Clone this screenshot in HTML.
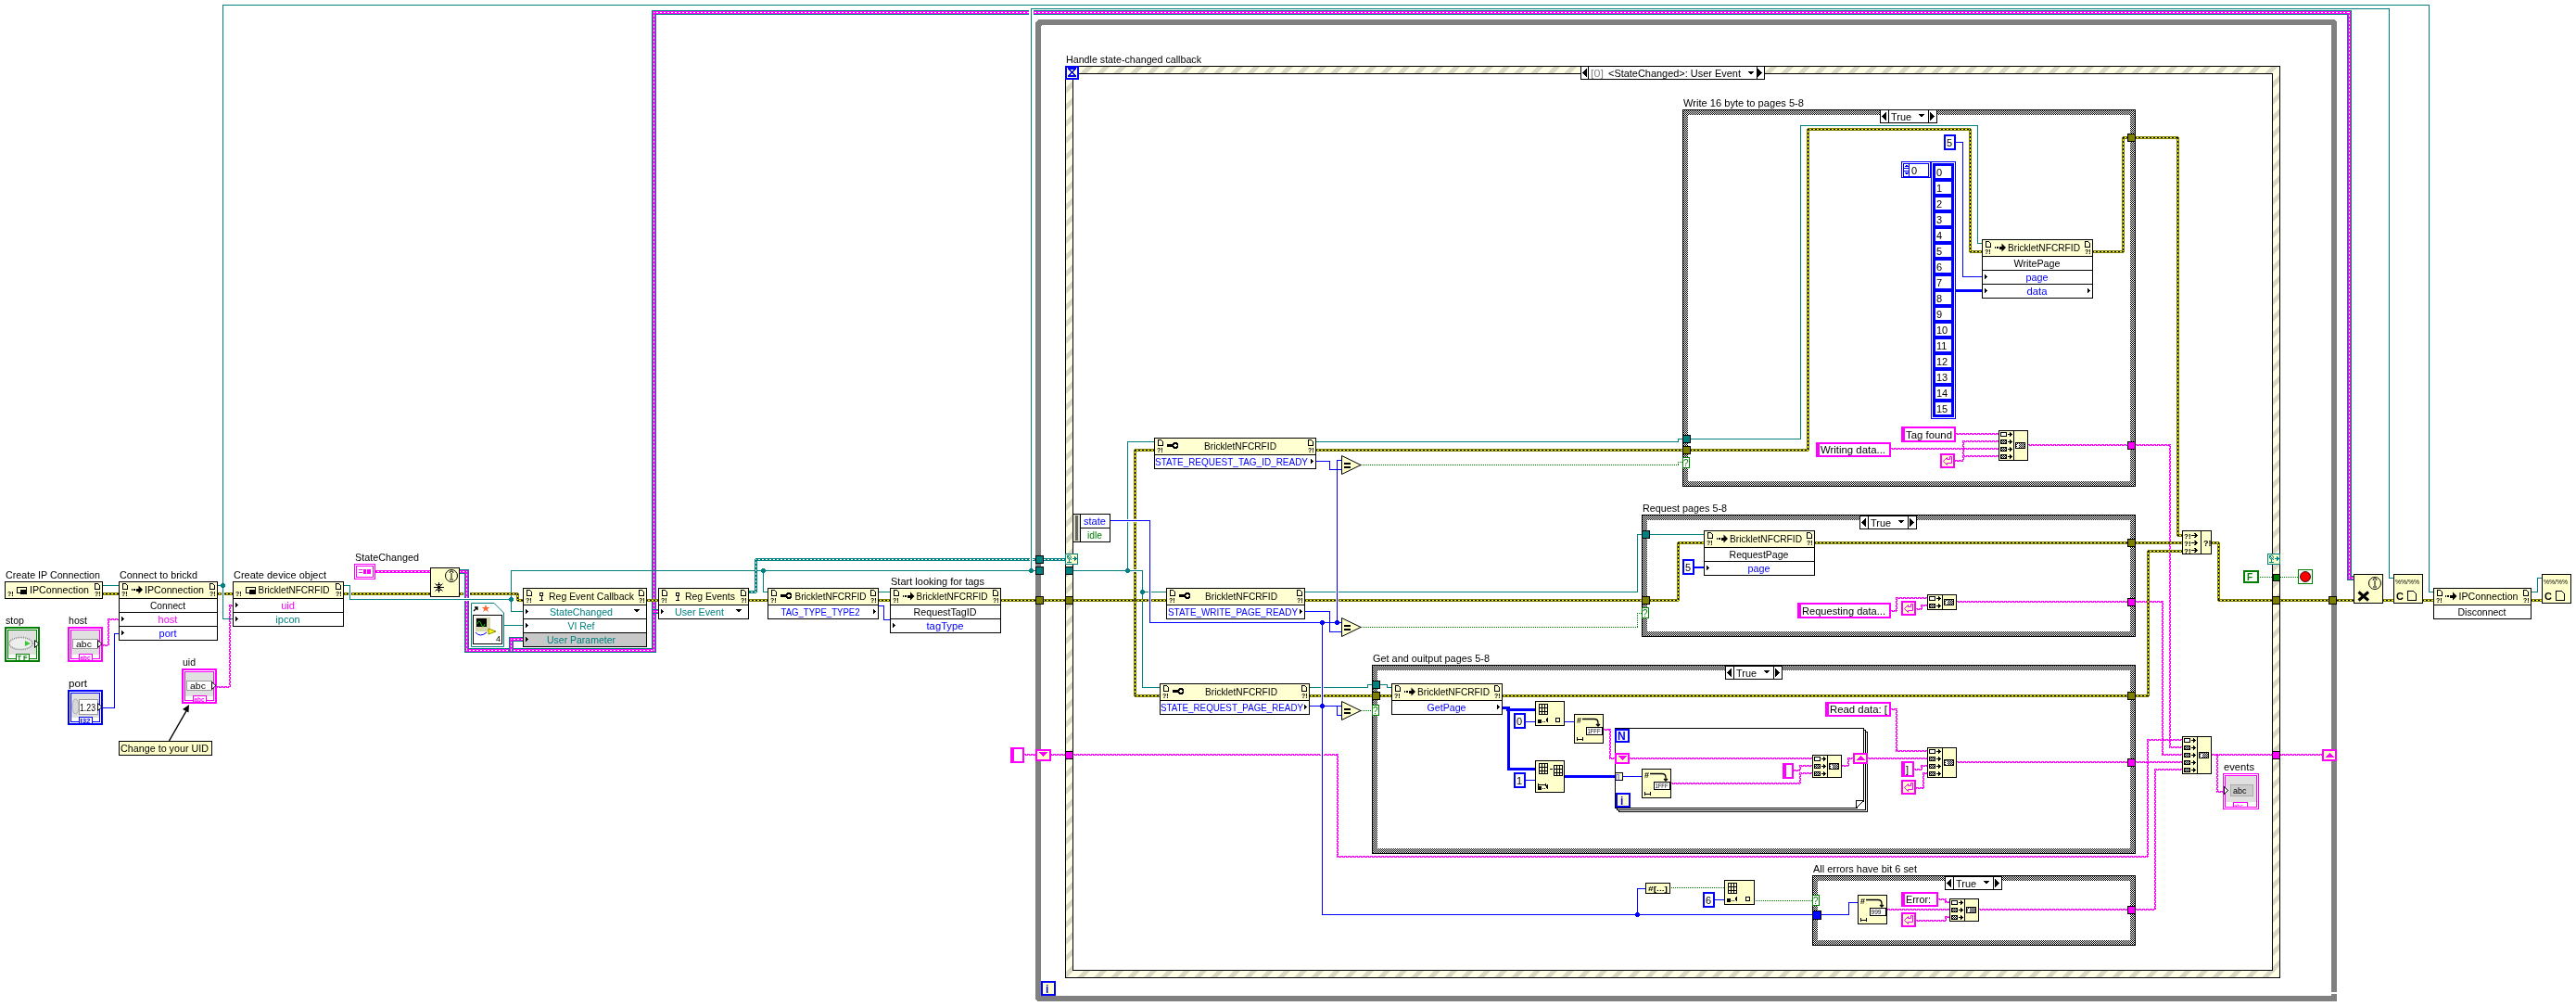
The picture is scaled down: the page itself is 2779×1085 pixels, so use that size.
<!DOCTYPE html>
<html><head><meta charset="utf-8"><style>
html,body{margin:0;padding:0;background:#fff;}
svg{display:block;will-change:transform;}
text{font-family:"Liberation Sans",sans-serif;shape-rendering:auto;}
</style></head><body>
<svg width="2779" height="1085" viewBox="0 0 2779 1085" shape-rendering="crispEdges">
<defs>
<pattern id="hatch" patternUnits="userSpaceOnUse" width="18" height="18" patternTransform="translate(5.7 0)">
<rect width="18" height="18" fill="#ffffe6"/>
<path d="M0 18 L18 0 M-9 9 L9 -9 M9 27 L27 9" stroke="#d8d8c4" stroke-width="5.5" shape-rendering="crispEdges"/>
</pattern>
<pattern id="dith" patternUnits="userSpaceOnUse" width="2" height="2">
<rect width="2" height="2" fill="#fff"/><rect width="1" height="1" fill="#000"/><rect x="1" y="1" width="1" height="1" fill="#000"/>
</pattern>
<pattern id="checker" patternUnits="userSpaceOnUse" width="2" height="2">
<rect width="2" height="2" fill="#fff"/><rect width="1" height="1" fill="#000"/><rect x="1" y="1" width="1" height="1" fill="#000"/>
</pattern>
</defs>
<rect width="2779" height="1085" fill="#fff"/>
<rect x="1117" y="21" width="1404" height="6" fill="#808080"/>
<rect x="1117" y="1074" width="1404" height="6" fill="#808080"/>
<rect x="1117" y="21" width="6" height="1059" fill="#808080"/>
<rect x="2515" y="21" width="6" height="1059" fill="#808080"/>
<rect x="1117" y="21" width="3" height="1" fill="#fff"/>
<rect x="1117" y="22" width="1" height="2" fill="#fff"/>
<rect x="1118" y="22" width="1" height="1" fill="#fff"/>
<rect x="1123" y="27" width="1" height="1" fill="#808080"/>
<rect x="2519" y="21" width="2" height="1" fill="#fff"/>
<rect x="2520" y="22" width="1" height="1" fill="#fff"/>
<rect x="1117" y="1078" width="1" height="2" fill="#fff"/>
<rect x="1118" y="1079" width="1" height="1" fill="#fff"/>
<rect x="2515" y="1070" width="6" height="2" fill="#fff"/>
<rect x="1149" y="71" width="1311" height="984" fill="url(#hatch)"/>
<rect x="1149" y="71" width="1311" height="1" fill="#000"/>
<rect x="1149" y="1054" width="1311" height="1" fill="#000"/>
<rect x="1149" y="71" width="1" height="984" fill="#000"/>
<rect x="2459" y="71" width="1" height="984" fill="#000"/>
<rect x="1157" y="79" width="1295" height="968" fill="#000"/>
<rect x="1158" y="80" width="1293" height="966" fill="#fff"/>
<text x="1150" y="68" fill="#000" font-size="11" text-anchor="start" font-weight="normal" font-family="Liberation Sans, sans-serif" textLength="146" lengthAdjust="spacingAndGlyphs">Handle state-changed callback</text>
<rect x="1815" y="118" width="489" height="407" fill="url(#checker)"/>
<rect x="1815" y="118" width="489" height="1" fill="#000"/>
<rect x="1815" y="524" width="489" height="1" fill="#000"/>
<rect x="1815" y="118" width="1" height="407" fill="#000"/>
<rect x="2303" y="118" width="1" height="407" fill="#000"/>
<rect x="1821" y="124" width="477" height="395" fill="#fff"/>
<text x="1816" y="115" fill="#000" font-size="11" text-anchor="start" font-weight="normal" font-family="Liberation Sans, sans-serif" textLength="130" lengthAdjust="spacingAndGlyphs">Write 16 byte to pages 5-8</text>
<rect x="1771" y="555" width="533" height="132" fill="url(#checker)"/>
<rect x="1771" y="555" width="533" height="1" fill="#000"/>
<rect x="1771" y="686" width="533" height="1" fill="#000"/>
<rect x="1771" y="555" width="1" height="132" fill="#000"/>
<rect x="2303" y="555" width="1" height="132" fill="#000"/>
<rect x="1777" y="561" width="521" height="120" fill="#fff"/>
<text x="1772" y="552" fill="#000" font-size="11" text-anchor="start" font-weight="normal" font-family="Liberation Sans, sans-serif" textLength="91" lengthAdjust="spacingAndGlyphs">Request pages 5-8</text>
<rect x="1480" y="717" width="824" height="204" fill="url(#checker)"/>
<rect x="1480" y="717" width="824" height="1" fill="#000"/>
<rect x="1480" y="920" width="824" height="1" fill="#000"/>
<rect x="1480" y="717" width="1" height="204" fill="#000"/>
<rect x="2303" y="717" width="1" height="204" fill="#000"/>
<rect x="1486" y="723" width="812" height="192" fill="#fff"/>
<text x="1481" y="714" fill="#000" font-size="11" text-anchor="start" font-weight="normal" font-family="Liberation Sans, sans-serif" textLength="126" lengthAdjust="spacingAndGlyphs">Get and ouitput pages 5-8</text>
<rect x="1955" y="944" width="349" height="76" fill="url(#checker)"/>
<rect x="1955" y="944" width="349" height="1" fill="#000"/>
<rect x="1955" y="1019" width="349" height="1" fill="#000"/>
<rect x="1955" y="944" width="1" height="76" fill="#000"/>
<rect x="2303" y="944" width="1" height="76" fill="#000"/>
<rect x="1961" y="950" width="337" height="64" fill="#fff"/>
<text x="1956" y="941" fill="#000" font-size="11" text-anchor="start" font-weight="normal" font-family="Liberation Sans, sans-serif" textLength="112" lengthAdjust="spacingAndGlyphs">All errors have bit 6 set</text>
<rect x="1746" y="789" width="269" height="1" fill="#000"/>
<rect x="1746" y="875" width="269" height="1" fill="#000"/>
<rect x="1746" y="789" width="1" height="87" fill="#000"/>
<rect x="2014" y="789" width="1" height="87" fill="#000"/>
<rect x="1744" y="787" width="269" height="1" fill="#000"/>
<rect x="1744" y="873" width="269" height="1" fill="#000"/>
<rect x="1744" y="787" width="1" height="87" fill="#000"/>
<rect x="2012" y="787" width="1" height="87" fill="#000"/>
<rect x="1745" y="788" width="267" height="85" fill="#fff"/>
<rect x="1742" y="785" width="269" height="1" fill="#000"/>
<rect x="1742" y="871" width="269" height="1" fill="#000"/>
<rect x="1742" y="785" width="1" height="87" fill="#000"/>
<rect x="2010" y="785" width="1" height="87" fill="#000"/>
<rect x="1743" y="786" width="267" height="85" fill="#fff"/>
<path d="M2003 872 L2011 872 L2011 864 Z" fill="#fff" shape-rendering="crispEdges"/>
<rect x="2002" y="863" width="9" height="1" fill="#000"/>
<rect x="2002" y="863" width="1" height="9" fill="#000"/>
<rect x="2002" y="871" width="1" height="1" fill="#000"/>
<rect x="2003" y="870" width="1" height="1" fill="#000"/>
<rect x="2004" y="869" width="1" height="1" fill="#000"/>
<rect x="2005" y="868" width="1" height="1" fill="#000"/>
<rect x="2006" y="867" width="1" height="1" fill="#000"/>
<rect x="2007" y="866" width="1" height="1" fill="#000"/>
<rect x="2008" y="865" width="1" height="1" fill="#000"/>
<rect x="2009" y="864" width="1" height="1" fill="#000"/>
<rect x="2010" y="863" width="1" height="1" fill="#000"/>
<rect x="240" y="5" width="1" height="663" fill="#008080"/>
<rect x="240" y="5" width="2381" height="1" fill="#008080"/>
<rect x="2620" y="5" width="1" height="634" fill="#008080"/>
<rect x="2620" y="638" width="6" height="1" fill="#008080"/>
<rect x="1112" y="9" width="1" height="607" fill="#008080"/>
<rect x="1112" y="9" width="1466" height="1" fill="#008080"/>
<rect x="2577" y="9" width="1" height="615" fill="#008080"/>
<rect x="2577" y="623" width="6" height="1" fill="#008080"/>
<rect x="494" y="614" width="12" height="5" fill="#008080"/>
<rect x="501" y="614" width="5" height="90" fill="#008080"/>
<rect x="501" y="699" width="207" height="5" fill="#008080"/>
<rect x="703" y="11" width="5" height="693" fill="#008080"/>
<rect x="703" y="11" width="1834" height="5" fill="#008080"/>
<rect x="2532" y="11" width="5" height="615" fill="#008080"/>
<rect x="2532" y="621" width="10" height="5" fill="#008080"/>
<rect x="495" y="615" width="10" height="3" fill="#ff00ff"/>
<rect x="502" y="615" width="3" height="88" fill="#ff00ff"/>
<rect x="502" y="700" width="205" height="3" fill="#ff00ff"/>
<rect x="704" y="12" width="3" height="691" fill="#ff00ff"/>
<rect x="704" y="12" width="1832" height="3" fill="#ff00ff"/>
<rect x="2533" y="12" width="3" height="613" fill="#ff00ff"/>
<rect x="2533" y="622" width="8" height="3" fill="#ff00ff"/>
<line x1="496" y1="616.5" x2="504" y2="616.5" stroke="#fff" stroke-width="1" stroke-dasharray="2 2" stroke-dashoffset="1"/>
<line x1="503.5" y1="616" x2="503.5" y2="702" stroke="#fff" stroke-width="1" stroke-dasharray="2 2" stroke-dashoffset="1"/>
<line x1="503" y1="701.5" x2="706" y2="701.5" stroke="#fff" stroke-width="1" stroke-dasharray="2 2" stroke-dashoffset="1"/>
<line x1="705.5" y1="13" x2="705.5" y2="702" stroke="#fff" stroke-width="1" stroke-dasharray="2 2" stroke-dashoffset="1"/>
<line x1="705" y1="13.5" x2="2535" y2="13.5" stroke="#fff" stroke-width="1" stroke-dasharray="2 2" stroke-dashoffset="1"/>
<line x1="2534.5" y1="13" x2="2534.5" y2="624" stroke="#fff" stroke-width="1" stroke-dasharray="2 2" stroke-dashoffset="1"/>
<line x1="2534" y1="623.5" x2="2540" y2="623.5" stroke="#fff" stroke-width="1" stroke-dasharray="2 2" stroke-dashoffset="1"/>
<rect x="549" y="687" width="5" height="17" fill="#008080"/>
<rect x="549" y="687" width="18" height="5" fill="#008080"/>
<rect x="550" y="688" width="3" height="15" fill="#ff00ff"/>
<rect x="550" y="688" width="16" height="3" fill="#ff00ff"/>
<line x1="551.5" y1="689" x2="551.5" y2="702" stroke="#fff" stroke-width="1" stroke-dasharray="2 2" stroke-dashoffset="1"/>
<line x1="551" y1="689.5" x2="565" y2="689.5" stroke="#fff" stroke-width="1" stroke-dasharray="2 2" stroke-dashoffset="1"/>
<rect x="703" y="657" width="10" height="5" fill="#008080"/>
<rect x="704" y="658" width="8" height="3" fill="#ff00ff"/>
<line x1="705" y1="659.5" x2="711" y2="659.5" stroke="#fff" stroke-width="1" stroke-dasharray="2 2" stroke-dashoffset="1"/>
<rect x="110" y="631" width="19" height="1" fill="#008080"/>
<rect x="234" y="631" width="7" height="1" fill="#008080"/>
<rect x="240" y="667" width="12" height="1" fill="#008080"/>
<rect x="370" y="631" width="8" height="1" fill="#008080"/>
<rect x="377" y="631" width="1" height="16" fill="#008080"/>
<rect x="377" y="646" width="175" height="1" fill="#008080"/>
<rect x="551" y="615" width="1" height="32" fill="#008080"/>
<rect x="551" y="615" width="567" height="1" fill="#008080"/>
<rect x="551" y="646" width="1" height="14" fill="#008080"/>
<rect x="551" y="659" width="14" height="1" fill="#008080"/>
<rect x="543" y="674" width="22" height="1" fill="#008080"/>
<rect x="823" y="615" width="1" height="24" fill="#008080"/>
<rect x="823" y="638" width="6" height="1" fill="#008080"/>
<rect x="947" y="638" width="14" height="1" fill="#008080"/>
<circle cx="240.5" cy="631.5" r="2.6" fill="#008080"/>
<circle cx="551.5" cy="646.5" r="2.6" fill="#008080"/>
<circle cx="823.5" cy="615.5" r="2.6" fill="#008080"/>
<circle cx="1112.5" cy="615.5" r="2.6" fill="#008080"/>
<rect x="807" y="637" width="9" height="3" fill="#008080"/>
<rect x="814" y="603" width="3" height="36" fill="#008080"/>
<rect x="815" y="602" width="335" height="3" fill="#008080"/>
<line x1="807" y1="638.5" x2="816" y2="638.5" stroke="#fff" stroke-width="1" stroke-dasharray="2 2" stroke-dashoffset="1"/>
<line x1="815.5" y1="603" x2="815.5" y2="639" stroke="#fff" stroke-width="1" stroke-dasharray="2 2" stroke-dashoffset="1"/>
<line x1="815" y1="603.5" x2="1150" y2="603.5" stroke="#fff" stroke-width="1" stroke-dasharray="2 2" stroke-dashoffset="1"/>
<rect x="110" y="639" width="19" height="3" fill="#808000"/>
<rect x="110" y="640" width="19" height="1" fill="#ffff00"/>
<line x1="110" y1="640.5" x2="129" y2="640.5" stroke="#000" stroke-width="1" stroke-dasharray="2 2" stroke-dashoffset="0"/>
<rect x="234" y="639" width="18" height="3" fill="#808000"/>
<rect x="234" y="640" width="18" height="1" fill="#ffff00"/>
<line x1="234" y1="640.5" x2="252" y2="640.5" stroke="#000" stroke-width="1" stroke-dasharray="2 2" stroke-dashoffset="0"/>
<rect x="370" y="639" width="95" height="3" fill="#808000"/>
<rect x="370" y="640" width="95" height="1" fill="#ffff00"/>
<line x1="370" y1="640.5" x2="465" y2="640.5" stroke="#000" stroke-width="1" stroke-dasharray="2 2" stroke-dashoffset="0"/>
<rect x="495" y="639" width="64" height="3" fill="#808000"/>
<rect x="557" y="640" width="3" height="8" fill="#808000"/>
<rect x="558" y="646" width="7" height="3" fill="#808000"/>
<rect x="495" y="640" width="64" height="1" fill="#ffff00"/>
<rect x="558" y="640" width="1" height="8" fill="#ffff00"/>
<rect x="558" y="647" width="7" height="1" fill="#ffff00"/>
<line x1="495" y1="640.5" x2="559" y2="640.5" stroke="#000" stroke-width="1" stroke-dasharray="2 2" stroke-dashoffset="0"/>
<line x1="558.5" y1="640" x2="558.5" y2="648" stroke="#000" stroke-width="1" stroke-dasharray="2 2" stroke-dashoffset="0"/>
<line x1="558" y1="647.5" x2="565" y2="647.5" stroke="#000" stroke-width="1" stroke-dasharray="2 2" stroke-dashoffset="0"/>
<rect x="697" y="646" width="14" height="3" fill="#808000"/>
<rect x="697" y="647" width="14" height="1" fill="#ffff00"/>
<line x1="697" y1="647.5" x2="711" y2="647.5" stroke="#000" stroke-width="1" stroke-dasharray="2 2" stroke-dashoffset="0"/>
<rect x="807" y="646" width="22" height="3" fill="#808000"/>
<rect x="807" y="647" width="22" height="1" fill="#ffff00"/>
<line x1="807" y1="647.5" x2="829" y2="647.5" stroke="#000" stroke-width="1" stroke-dasharray="2 2" stroke-dashoffset="0"/>
<rect x="947" y="646" width="14" height="3" fill="#808000"/>
<rect x="947" y="647" width="14" height="1" fill="#ffff00"/>
<line x1="947" y1="647.5" x2="961" y2="647.5" stroke="#000" stroke-width="1" stroke-dasharray="2 2" stroke-dashoffset="0"/>
<rect x="1079" y="646" width="71" height="3" fill="#808000"/>
<rect x="1079" y="647" width="71" height="1" fill="#ffff00"/>
<line x1="1079" y1="647.5" x2="1150" y2="647.5" stroke="#000" stroke-width="1" stroke-dasharray="2 2" stroke-dashoffset="0"/>
<line x1="111" y1="695.5" x2="117" y2="695.5" stroke="#ff00ff" stroke-width="1" stroke-dasharray="3 1" stroke-dashoffset="0"/>
<line x1="111" y1="696.5" x2="117" y2="696.5" stroke="#ff00ff" stroke-width="1" stroke-dasharray="3 1" stroke-dashoffset="2"/>
<line x1="116.5" y1="667" x2="116.5" y2="696" stroke="#ff00ff" stroke-width="1" stroke-dasharray="3 1" stroke-dashoffset="0"/>
<line x1="117.5" y1="667" x2="117.5" y2="696" stroke="#ff00ff" stroke-width="1" stroke-dasharray="3 1" stroke-dashoffset="2"/>
<line x1="116" y1="667.5" x2="129" y2="667.5" stroke="#ff00ff" stroke-width="1" stroke-dasharray="3 1" stroke-dashoffset="0"/>
<line x1="116" y1="668.5" x2="129" y2="668.5" stroke="#ff00ff" stroke-width="1" stroke-dasharray="3 1" stroke-dashoffset="2"/>
<rect x="111" y="763" width="13" height="1" fill="#0000ff"/>
<rect x="123" y="683" width="1" height="81" fill="#0000ff"/>
<rect x="123" y="683" width="6" height="1" fill="#0000ff"/>
<line x1="234" y1="740.5" x2="248" y2="740.5" stroke="#ff00ff" stroke-width="1" stroke-dasharray="3 1" stroke-dashoffset="0"/>
<line x1="234" y1="741.5" x2="248" y2="741.5" stroke="#ff00ff" stroke-width="1" stroke-dasharray="3 1" stroke-dashoffset="2"/>
<line x1="247.5" y1="652" x2="247.5" y2="741" stroke="#ff00ff" stroke-width="1" stroke-dasharray="3 1" stroke-dashoffset="0"/>
<line x1="248.5" y1="652" x2="248.5" y2="741" stroke="#ff00ff" stroke-width="1" stroke-dasharray="3 1" stroke-dashoffset="2"/>
<line x1="247" y1="652.5" x2="252" y2="652.5" stroke="#ff00ff" stroke-width="1" stroke-dasharray="3 1" stroke-dashoffset="0"/>
<line x1="247" y1="653.5" x2="252" y2="653.5" stroke="#ff00ff" stroke-width="1" stroke-dasharray="3 1" stroke-dashoffset="2"/>
<rect x="404" y="615" width="61" height="3" fill="#ff00ff"/>
<line x1="404" y1="616.5" x2="465" y2="616.5" stroke="#fff" stroke-width="1" stroke-dasharray="2 2" stroke-dashoffset="1"/>
<rect x="947" y="653" width="7" height="1" fill="#0000ff"/>
<rect x="953" y="653" width="1" height="16" fill="#0000ff"/>
<rect x="953" y="668" width="8" height="1" fill="#0000ff"/>
<rect x="1157" y="615" width="76" height="1" fill="#008080"/>
<rect x="1232" y="615" width="1" height="127" fill="#008080"/>
<rect x="1232" y="741" width="20" height="1" fill="#008080"/>
<rect x="1216" y="476" width="1" height="140" fill="#008080"/>
<rect x="1216" y="476" width="30" height="1" fill="#008080"/>
<rect x="1232" y="638" width="27" height="1" fill="#008080"/>
<circle cx="1216.5" cy="615.5" r="2.6" fill="#008080"/>
<circle cx="1232.5" cy="638.5" r="2.6" fill="#008080"/>
<rect x="1157" y="646" width="102" height="3" fill="#808000"/>
<rect x="1157" y="647" width="102" height="1" fill="#ffff00"/>
<line x1="1157" y1="647.5" x2="1259" y2="647.5" stroke="#000" stroke-width="1" stroke-dasharray="2 2" stroke-dashoffset="0"/>
<rect x="1223" y="485" width="3" height="163" fill="#808000"/>
<rect x="1224" y="484" width="22" height="3" fill="#808000"/>
<rect x="1224" y="485" width="1" height="163" fill="#ffff00"/>
<rect x="1224" y="485" width="22" height="1" fill="#ffff00"/>
<line x1="1224.5" y1="485" x2="1224.5" y2="648" stroke="#000" stroke-width="1" stroke-dasharray="2 2" stroke-dashoffset="0"/>
<line x1="1224" y1="485.5" x2="1246" y2="485.5" stroke="#000" stroke-width="1" stroke-dasharray="2 2" stroke-dashoffset="0"/>
<rect x="1223" y="647" width="3" height="104" fill="#808000"/>
<rect x="1224" y="749" width="28" height="3" fill="#808000"/>
<rect x="1224" y="647" width="1" height="104" fill="#ffff00"/>
<rect x="1224" y="750" width="28" height="1" fill="#ffff00"/>
<line x1="1224.5" y1="647" x2="1224.5" y2="751" stroke="#000" stroke-width="1" stroke-dasharray="2 2" stroke-dashoffset="0"/>
<line x1="1224" y1="750.5" x2="1252" y2="750.5" stroke="#000" stroke-width="1" stroke-dasharray="2 2" stroke-dashoffset="0"/>
<rect x="1419" y="476" width="392" height="1" fill="#008080"/>
<rect x="1810" y="473" width="1" height="4" fill="#008080"/>
<rect x="1810" y="473" width="6" height="1" fill="#008080"/>
<rect x="1419" y="484" width="397" height="3" fill="#808000"/>
<rect x="1419" y="485" width="397" height="1" fill="#ffff00"/>
<line x1="1419" y1="485.5" x2="1816" y2="485.5" stroke="#000" stroke-width="1" stroke-dasharray="2 2" stroke-dashoffset="0"/>
<rect x="1407" y="638" width="360" height="1" fill="#008080"/>
<rect x="1766" y="576" width="1" height="63" fill="#008080"/>
<rect x="1766" y="576" width="6" height="1" fill="#008080"/>
<rect x="1407" y="646" width="365" height="3" fill="#808000"/>
<rect x="1407" y="647" width="365" height="1" fill="#ffff00"/>
<line x1="1407" y1="647.5" x2="1772" y2="647.5" stroke="#000" stroke-width="1" stroke-dasharray="2 2" stroke-dashoffset="0"/>
<rect x="1412" y="741" width="64" height="1" fill="#008080"/>
<rect x="1475" y="738" width="1" height="4" fill="#008080"/>
<rect x="1475" y="738" width="6" height="1" fill="#008080"/>
<rect x="1412" y="749" width="69" height="3" fill="#808000"/>
<rect x="1412" y="750" width="69" height="1" fill="#ffff00"/>
<line x1="1412" y1="750.5" x2="1481" y2="750.5" stroke="#000" stroke-width="1" stroke-dasharray="2 2" stroke-dashoffset="0"/>
<rect x="1197" y="561" width="44" height="1" fill="#0000ff"/>
<rect x="1240" y="561" width="1" height="111" fill="#0000ff"/>
<rect x="1240" y="671" width="208" height="1" fill="#0000ff"/>
<rect x="1442" y="496" width="1" height="176" fill="#0000ff"/>
<rect x="1442" y="496" width="6" height="1" fill="#0000ff"/>
<rect x="1419" y="497" width="16" height="1" fill="#0000ff"/>
<rect x="1434" y="497" width="1" height="10" fill="#0000ff"/>
<rect x="1434" y="506" width="14" height="1" fill="#0000ff"/>
<rect x="1407" y="659" width="28" height="1" fill="#0000ff"/>
<rect x="1434" y="659" width="1" height="23" fill="#0000ff"/>
<rect x="1434" y="681" width="14" height="1" fill="#0000ff"/>
<rect x="1426" y="671" width="1" height="316" fill="#0000ff"/>
<rect x="1426" y="986" width="530" height="1" fill="#0000ff"/>
<rect x="1412" y="761" width="36" height="1" fill="#0000ff"/>
<rect x="1442" y="761" width="1" height="11" fill="#0000ff"/>
<rect x="1442" y="771" width="6" height="1" fill="#0000ff"/>
<circle cx="1426.5" cy="671.5" r="2.6" fill="#0000ff"/>
<circle cx="1442.5" cy="671.5" r="2.6" fill="#0000ff"/>
<circle cx="1426.5" cy="761.5" r="2.6" fill="#0000ff"/>
<line x1="1468" y1="501.5" x2="1811" y2="501.5" stroke="#008000" stroke-width="1" stroke-dasharray="1 1" stroke-dashoffset="0"/>
<line x1="1810.5" y1="498" x2="1810.5" y2="502" stroke="#008000" stroke-width="1" stroke-dasharray="1 1" stroke-dashoffset="0"/>
<line x1="1810" y1="498.5" x2="1816" y2="498.5" stroke="#008000" stroke-width="1" stroke-dasharray="1 1" stroke-dashoffset="0"/>
<line x1="1468" y1="676.5" x2="1767" y2="676.5" stroke="#008000" stroke-width="1" stroke-dasharray="1 1" stroke-dashoffset="0"/>
<line x1="1766.5" y1="661" x2="1766.5" y2="677" stroke="#008000" stroke-width="1" stroke-dasharray="1 1" stroke-dashoffset="0"/>
<line x1="1766" y1="661.5" x2="1772" y2="661.5" stroke="#008000" stroke-width="1" stroke-dasharray="1 1" stroke-dashoffset="0"/>
<line x1="1468" y1="766.5" x2="1481" y2="766.5" stroke="#008000" stroke-width="1" stroke-dasharray="1 1" stroke-dashoffset="0"/>
<line x1="1104" y1="813.5" x2="1158" y2="813.5" stroke="#ff00ff" stroke-width="1" stroke-dasharray="3 1" stroke-dashoffset="0"/>
<line x1="1104" y1="814.5" x2="1158" y2="814.5" stroke="#ff00ff" stroke-width="1" stroke-dasharray="3 1" stroke-dashoffset="2"/>
<line x1="1157" y1="813.5" x2="1443" y2="813.5" stroke="#ff00ff" stroke-width="1" stroke-dasharray="3 1" stroke-dashoffset="0"/>
<line x1="1157" y1="814.5" x2="1443" y2="814.5" stroke="#ff00ff" stroke-width="1" stroke-dasharray="3 1" stroke-dashoffset="2"/>
<line x1="1442.5" y1="813" x2="1442.5" y2="924" stroke="#ff00ff" stroke-width="1" stroke-dasharray="3 1" stroke-dashoffset="0"/>
<line x1="1443.5" y1="813" x2="1443.5" y2="924" stroke="#ff00ff" stroke-width="1" stroke-dasharray="3 1" stroke-dashoffset="2"/>
<line x1="1442" y1="923.5" x2="2317" y2="923.5" stroke="#ff00ff" stroke-width="1" stroke-dasharray="3 1" stroke-dashoffset="0"/>
<line x1="1442" y1="924.5" x2="2317" y2="924.5" stroke="#ff00ff" stroke-width="1" stroke-dasharray="3 1" stroke-dashoffset="2"/>
<line x1="2316.5" y1="797" x2="2316.5" y2="924" stroke="#ff00ff" stroke-width="1" stroke-dasharray="3 1" stroke-dashoffset="0"/>
<line x1="2317.5" y1="797" x2="2317.5" y2="924" stroke="#ff00ff" stroke-width="1" stroke-dasharray="3 1" stroke-dashoffset="2"/>
<line x1="2316" y1="797.5" x2="2355" y2="797.5" stroke="#ff00ff" stroke-width="1" stroke-dasharray="3 1" stroke-dashoffset="0"/>
<line x1="2316" y1="798.5" x2="2355" y2="798.5" stroke="#ff00ff" stroke-width="1" stroke-dasharray="3 1" stroke-dashoffset="2"/>
<rect x="1823" y="473" width="120" height="1" fill="#008080"/>
<rect x="1942" y="135" width="1" height="339" fill="#008080"/>
<rect x="1942" y="135" width="192" height="1" fill="#008080"/>
<rect x="2133" y="135" width="1" height="128" fill="#008080"/>
<rect x="2133" y="262" width="6" height="1" fill="#008080"/>
<rect x="1823" y="484" width="128" height="3" fill="#808000"/>
<rect x="1949" y="139" width="3" height="347" fill="#808000"/>
<rect x="1950" y="138" width="176" height="3" fill="#808000"/>
<rect x="2124" y="139" width="3" height="133" fill="#808000"/>
<rect x="2125" y="270" width="14" height="3" fill="#808000"/>
<rect x="1823" y="485" width="128" height="1" fill="#ffff00"/>
<rect x="1950" y="139" width="1" height="347" fill="#ffff00"/>
<rect x="1950" y="139" width="176" height="1" fill="#ffff00"/>
<rect x="2125" y="139" width="1" height="133" fill="#ffff00"/>
<rect x="2125" y="271" width="14" height="1" fill="#ffff00"/>
<line x1="1823" y1="485.5" x2="1951" y2="485.5" stroke="#000" stroke-width="1" stroke-dasharray="2 2" stroke-dashoffset="0"/>
<line x1="1950.5" y1="139" x2="1950.5" y2="486" stroke="#000" stroke-width="1" stroke-dasharray="2 2" stroke-dashoffset="0"/>
<line x1="1950" y1="139.5" x2="2126" y2="139.5" stroke="#000" stroke-width="1" stroke-dasharray="2 2" stroke-dashoffset="0"/>
<line x1="2125.5" y1="139" x2="2125.5" y2="272" stroke="#000" stroke-width="1" stroke-dasharray="2 2" stroke-dashoffset="0"/>
<line x1="2125" y1="271.5" x2="2139" y2="271.5" stroke="#000" stroke-width="1" stroke-dasharray="2 2" stroke-dashoffset="0"/>
<rect x="2257" y="270" width="34" height="3" fill="#808000"/>
<rect x="2289" y="148" width="3" height="124" fill="#808000"/>
<rect x="2290" y="147" width="6" height="3" fill="#808000"/>
<rect x="2257" y="271" width="34" height="1" fill="#ffff00"/>
<rect x="2290" y="148" width="1" height="124" fill="#ffff00"/>
<rect x="2290" y="148" width="6" height="1" fill="#ffff00"/>
<line x1="2257" y1="271.5" x2="2291" y2="271.5" stroke="#000" stroke-width="1" stroke-dasharray="2 2" stroke-dashoffset="0"/>
<line x1="2290.5" y1="148" x2="2290.5" y2="272" stroke="#000" stroke-width="1" stroke-dasharray="2 2" stroke-dashoffset="0"/>
<line x1="2290" y1="148.5" x2="2296" y2="148.5" stroke="#000" stroke-width="1" stroke-dasharray="2 2" stroke-dashoffset="0"/>
<rect x="2303" y="147" width="47" height="3" fill="#808000"/>
<rect x="2348" y="148" width="3" height="430" fill="#808000"/>
<rect x="2349" y="576" width="6" height="3" fill="#808000"/>
<rect x="2303" y="148" width="47" height="1" fill="#ffff00"/>
<rect x="2349" y="148" width="1" height="430" fill="#ffff00"/>
<rect x="2349" y="577" width="6" height="1" fill="#ffff00"/>
<line x1="2303" y1="148.5" x2="2350" y2="148.5" stroke="#000" stroke-width="1" stroke-dasharray="2 2" stroke-dashoffset="0"/>
<line x1="2349.5" y1="148" x2="2349.5" y2="578" stroke="#000" stroke-width="1" stroke-dasharray="2 2" stroke-dashoffset="0"/>
<line x1="2349" y1="577.5" x2="2355" y2="577.5" stroke="#000" stroke-width="1" stroke-dasharray="2 2" stroke-dashoffset="0"/>
<rect x="2109" y="153" width="9" height="1" fill="#0000ff"/>
<rect x="2117" y="153" width="1" height="146" fill="#0000ff"/>
<rect x="2117" y="298" width="22" height="1" fill="#0000ff"/>
<rect x="2109" y="312" width="31" height="3" fill="#0000ff"/>
<line x1="2109" y1="467.5" x2="2157" y2="467.5" stroke="#ff00ff" stroke-width="1" stroke-dasharray="3 1" stroke-dashoffset="0"/>
<line x1="2109" y1="468.5" x2="2157" y2="468.5" stroke="#ff00ff" stroke-width="1" stroke-dasharray="3 1" stroke-dashoffset="2"/>
<line x1="2039" y1="483.5" x2="2157" y2="483.5" stroke="#ff00ff" stroke-width="1" stroke-dasharray="3 1" stroke-dashoffset="0"/>
<line x1="2039" y1="484.5" x2="2157" y2="484.5" stroke="#ff00ff" stroke-width="1" stroke-dasharray="3 1" stroke-dashoffset="2"/>
<line x1="2109" y1="496.5" x2="2118" y2="496.5" stroke="#ff00ff" stroke-width="1" stroke-dasharray="3 1" stroke-dashoffset="0"/>
<line x1="2109" y1="497.5" x2="2118" y2="497.5" stroke="#ff00ff" stroke-width="1" stroke-dasharray="3 1" stroke-dashoffset="2"/>
<line x1="2117.5" y1="475" x2="2117.5" y2="497" stroke="#ff00ff" stroke-width="1" stroke-dasharray="3 1" stroke-dashoffset="0"/>
<line x1="2118.5" y1="475" x2="2118.5" y2="497" stroke="#ff00ff" stroke-width="1" stroke-dasharray="3 1" stroke-dashoffset="2"/>
<line x1="2117" y1="475.5" x2="2157" y2="475.5" stroke="#ff00ff" stroke-width="1" stroke-dasharray="3 1" stroke-dashoffset="0"/>
<line x1="2117" y1="476.5" x2="2157" y2="476.5" stroke="#ff00ff" stroke-width="1" stroke-dasharray="3 1" stroke-dashoffset="2"/>
<line x1="2117" y1="491.5" x2="2157" y2="491.5" stroke="#ff00ff" stroke-width="1" stroke-dasharray="3 1" stroke-dashoffset="0"/>
<line x1="2117" y1="492.5" x2="2157" y2="492.5" stroke="#ff00ff" stroke-width="1" stroke-dasharray="3 1" stroke-dashoffset="2"/>
<line x1="2187" y1="479.5" x2="2296" y2="479.5" stroke="#ff00ff" stroke-width="1" stroke-dasharray="3 1" stroke-dashoffset="0"/>
<line x1="2187" y1="480.5" x2="2296" y2="480.5" stroke="#ff00ff" stroke-width="1" stroke-dasharray="3 1" stroke-dashoffset="2"/>
<line x1="2303" y1="479.5" x2="2341" y2="479.5" stroke="#ff00ff" stroke-width="1" stroke-dasharray="3 1" stroke-dashoffset="0"/>
<line x1="2303" y1="480.5" x2="2341" y2="480.5" stroke="#ff00ff" stroke-width="1" stroke-dasharray="3 1" stroke-dashoffset="2"/>
<line x1="2340.5" y1="479" x2="2340.5" y2="806" stroke="#ff00ff" stroke-width="1" stroke-dasharray="3 1" stroke-dashoffset="0"/>
<line x1="2341.5" y1="479" x2="2341.5" y2="806" stroke="#ff00ff" stroke-width="1" stroke-dasharray="3 1" stroke-dashoffset="2"/>
<line x1="2340" y1="805.5" x2="2355" y2="805.5" stroke="#ff00ff" stroke-width="1" stroke-dasharray="3 1" stroke-dashoffset="0"/>
<line x1="2340" y1="806.5" x2="2355" y2="806.5" stroke="#ff00ff" stroke-width="1" stroke-dasharray="3 1" stroke-dashoffset="2"/>
<rect x="1779" y="576" width="60" height="1" fill="#008080"/>
<rect x="1779" y="646" width="32" height="3" fill="#808000"/>
<rect x="1809" y="585" width="3" height="63" fill="#808000"/>
<rect x="1810" y="584" width="29" height="3" fill="#808000"/>
<rect x="1779" y="647" width="32" height="1" fill="#ffff00"/>
<rect x="1810" y="585" width="1" height="63" fill="#ffff00"/>
<rect x="1810" y="585" width="29" height="1" fill="#ffff00"/>
<line x1="1779" y1="647.5" x2="1811" y2="647.5" stroke="#000" stroke-width="1" stroke-dasharray="2 2" stroke-dashoffset="0"/>
<line x1="1810.5" y1="585" x2="1810.5" y2="648" stroke="#000" stroke-width="1" stroke-dasharray="2 2" stroke-dashoffset="0"/>
<line x1="1810" y1="585.5" x2="1839" y2="585.5" stroke="#000" stroke-width="1" stroke-dasharray="2 2" stroke-dashoffset="0"/>
<rect x="1827" y="611" width="12" height="2" fill="#0000ff"/>
<rect x="1957" y="584" width="339" height="3" fill="#808000"/>
<rect x="1957" y="585" width="339" height="1" fill="#ffff00"/>
<line x1="1957" y1="585.5" x2="2296" y2="585.5" stroke="#000" stroke-width="1" stroke-dasharray="2 2" stroke-dashoffset="0"/>
<rect x="2303" y="584" width="52" height="3" fill="#808000"/>
<rect x="2303" y="585" width="52" height="1" fill="#ffff00"/>
<line x1="2303" y1="585.5" x2="2355" y2="585.5" stroke="#000" stroke-width="1" stroke-dasharray="2 2" stroke-dashoffset="0"/>
<line x1="2039" y1="658.5" x2="2046" y2="658.5" stroke="#ff00ff" stroke-width="1" stroke-dasharray="3 1" stroke-dashoffset="0"/>
<line x1="2039" y1="659.5" x2="2046" y2="659.5" stroke="#ff00ff" stroke-width="1" stroke-dasharray="3 1" stroke-dashoffset="2"/>
<line x1="2045.5" y1="644" x2="2045.5" y2="659" stroke="#ff00ff" stroke-width="1" stroke-dasharray="3 1" stroke-dashoffset="0"/>
<line x1="2046.5" y1="644" x2="2046.5" y2="659" stroke="#ff00ff" stroke-width="1" stroke-dasharray="3 1" stroke-dashoffset="2"/>
<line x1="2045" y1="644.5" x2="2080" y2="644.5" stroke="#ff00ff" stroke-width="1" stroke-dasharray="3 1" stroke-dashoffset="0"/>
<line x1="2045" y1="645.5" x2="2080" y2="645.5" stroke="#ff00ff" stroke-width="1" stroke-dasharray="3 1" stroke-dashoffset="2"/>
<line x1="2066" y1="656.5" x2="2073" y2="656.5" stroke="#ff00ff" stroke-width="1" stroke-dasharray="3 1" stroke-dashoffset="0"/>
<line x1="2066" y1="657.5" x2="2073" y2="657.5" stroke="#ff00ff" stroke-width="1" stroke-dasharray="3 1" stroke-dashoffset="2"/>
<line x1="2072.5" y1="652" x2="2072.5" y2="657" stroke="#ff00ff" stroke-width="1" stroke-dasharray="3 1" stroke-dashoffset="0"/>
<line x1="2073.5" y1="652" x2="2073.5" y2="657" stroke="#ff00ff" stroke-width="1" stroke-dasharray="3 1" stroke-dashoffset="2"/>
<line x1="2072" y1="652.5" x2="2080" y2="652.5" stroke="#ff00ff" stroke-width="1" stroke-dasharray="3 1" stroke-dashoffset="0"/>
<line x1="2072" y1="653.5" x2="2080" y2="653.5" stroke="#ff00ff" stroke-width="1" stroke-dasharray="3 1" stroke-dashoffset="2"/>
<line x1="2110" y1="648.5" x2="2296" y2="648.5" stroke="#ff00ff" stroke-width="1" stroke-dasharray="3 1" stroke-dashoffset="0"/>
<line x1="2110" y1="649.5" x2="2296" y2="649.5" stroke="#ff00ff" stroke-width="1" stroke-dasharray="3 1" stroke-dashoffset="2"/>
<line x1="2303" y1="648.5" x2="2333" y2="648.5" stroke="#ff00ff" stroke-width="1" stroke-dasharray="3 1" stroke-dashoffset="0"/>
<line x1="2303" y1="649.5" x2="2333" y2="649.5" stroke="#ff00ff" stroke-width="1" stroke-dasharray="3 1" stroke-dashoffset="2"/>
<line x1="2332.5" y1="648" x2="2332.5" y2="814" stroke="#ff00ff" stroke-width="1" stroke-dasharray="3 1" stroke-dashoffset="0"/>
<line x1="2333.5" y1="648" x2="2333.5" y2="814" stroke="#ff00ff" stroke-width="1" stroke-dasharray="3 1" stroke-dashoffset="2"/>
<line x1="2332" y1="813.5" x2="2355" y2="813.5" stroke="#ff00ff" stroke-width="1" stroke-dasharray="3 1" stroke-dashoffset="0"/>
<line x1="2332" y1="814.5" x2="2355" y2="814.5" stroke="#ff00ff" stroke-width="1" stroke-dasharray="3 1" stroke-dashoffset="2"/>
<rect x="1488" y="738" width="9" height="1" fill="#008080"/>
<rect x="1496" y="738" width="1" height="4" fill="#008080"/>
<rect x="1496" y="741" width="6" height="1" fill="#008080"/>
<rect x="1488" y="749" width="14" height="3" fill="#808000"/>
<rect x="1488" y="750" width="14" height="1" fill="#ffff00"/>
<line x1="1488" y1="750.5" x2="1502" y2="750.5" stroke="#000" stroke-width="1" stroke-dasharray="2 2" stroke-dashoffset="0"/>
<rect x="1620" y="749" width="676" height="3" fill="#808000"/>
<rect x="1620" y="750" width="676" height="1" fill="#ffff00"/>
<line x1="1620" y1="750.5" x2="2296" y2="750.5" stroke="#000" stroke-width="1" stroke-dasharray="2 2" stroke-dashoffset="0"/>
<rect x="2303" y="749" width="15" height="3" fill="#808000"/>
<rect x="2316" y="594" width="3" height="157" fill="#808000"/>
<rect x="2317" y="593" width="38" height="3" fill="#808000"/>
<rect x="2303" y="750" width="15" height="1" fill="#ffff00"/>
<rect x="2317" y="594" width="1" height="157" fill="#ffff00"/>
<rect x="2317" y="594" width="38" height="1" fill="#ffff00"/>
<line x1="2303" y1="750.5" x2="2318" y2="750.5" stroke="#000" stroke-width="1" stroke-dasharray="2 2" stroke-dashoffset="0"/>
<line x1="2317.5" y1="594" x2="2317.5" y2="751" stroke="#000" stroke-width="1" stroke-dasharray="2 2" stroke-dashoffset="0"/>
<line x1="2317" y1="594.5" x2="2355" y2="594.5" stroke="#000" stroke-width="1" stroke-dasharray="2 2" stroke-dashoffset="0"/>
<rect x="1620" y="762" width="9" height="3" fill="#0000ff"/>
<rect x="1626" y="762" width="3" height="69" fill="#0000ff"/>
<rect x="1626" y="828" width="32" height="3" fill="#0000ff"/>
<rect x="1626" y="764" width="32" height="3" fill="#0000ff"/>
<circle cx="1627.5" cy="765.5" r="2.5" fill="#0000ff"/>
<rect x="1645" y="778" width="12" height="1" fill="#0000ff"/>
<rect x="1687" y="778" width="12" height="1" fill="#0000ff"/>
<rect x="1645" y="841" width="12" height="1" fill="#0000ff"/>
<rect x="1687" y="836" width="57" height="3" fill="#0000ff"/>
<rect x="1750" y="837" width="22" height="1" fill="#0000ff"/>
<line x1="1729" y1="786.5" x2="1737" y2="786.5" stroke="#ff00ff" stroke-width="1" stroke-dasharray="3 1" stroke-dashoffset="0"/>
<line x1="1729" y1="787.5" x2="1737" y2="787.5" stroke="#ff00ff" stroke-width="1" stroke-dasharray="3 1" stroke-dashoffset="2"/>
<line x1="1736.5" y1="786" x2="1736.5" y2="818" stroke="#ff00ff" stroke-width="1" stroke-dasharray="3 1" stroke-dashoffset="0"/>
<line x1="1737.5" y1="786" x2="1737.5" y2="818" stroke="#ff00ff" stroke-width="1" stroke-dasharray="3 1" stroke-dashoffset="2"/>
<line x1="1736" y1="817.5" x2="1743" y2="817.5" stroke="#ff00ff" stroke-width="1" stroke-dasharray="3 1" stroke-dashoffset="0"/>
<line x1="1736" y1="818.5" x2="1743" y2="818.5" stroke="#ff00ff" stroke-width="1" stroke-dasharray="3 1" stroke-dashoffset="2"/>
<line x1="1757" y1="817.5" x2="1956" y2="817.5" stroke="#ff00ff" stroke-width="1" stroke-dasharray="3 1" stroke-dashoffset="0"/>
<line x1="1757" y1="818.5" x2="1956" y2="818.5" stroke="#ff00ff" stroke-width="1" stroke-dasharray="3 1" stroke-dashoffset="2"/>
<line x1="1802" y1="844.5" x2="1942" y2="844.5" stroke="#ff00ff" stroke-width="1" stroke-dasharray="3 1" stroke-dashoffset="0"/>
<line x1="1802" y1="845.5" x2="1942" y2="845.5" stroke="#ff00ff" stroke-width="1" stroke-dasharray="3 1" stroke-dashoffset="2"/>
<line x1="1941.5" y1="833" x2="1941.5" y2="845" stroke="#ff00ff" stroke-width="1" stroke-dasharray="3 1" stroke-dashoffset="0"/>
<line x1="1942.5" y1="833" x2="1942.5" y2="845" stroke="#ff00ff" stroke-width="1" stroke-dasharray="3 1" stroke-dashoffset="2"/>
<line x1="1941" y1="833.5" x2="1956" y2="833.5" stroke="#ff00ff" stroke-width="1" stroke-dasharray="3 1" stroke-dashoffset="0"/>
<line x1="1941" y1="834.5" x2="1956" y2="834.5" stroke="#ff00ff" stroke-width="1" stroke-dasharray="3 1" stroke-dashoffset="2"/>
<line x1="1935" y1="830.5" x2="1942" y2="830.5" stroke="#ff00ff" stroke-width="1" stroke-dasharray="3 1" stroke-dashoffset="0"/>
<line x1="1935" y1="831.5" x2="1942" y2="831.5" stroke="#ff00ff" stroke-width="1" stroke-dasharray="3 1" stroke-dashoffset="2"/>
<line x1="1941.5" y1="825" x2="1941.5" y2="831" stroke="#ff00ff" stroke-width="1" stroke-dasharray="3 1" stroke-dashoffset="0"/>
<line x1="1942.5" y1="825" x2="1942.5" y2="831" stroke="#ff00ff" stroke-width="1" stroke-dasharray="3 1" stroke-dashoffset="2"/>
<line x1="1941" y1="825.5" x2="1956" y2="825.5" stroke="#ff00ff" stroke-width="1" stroke-dasharray="3 1" stroke-dashoffset="0"/>
<line x1="1941" y1="826.5" x2="1956" y2="826.5" stroke="#ff00ff" stroke-width="1" stroke-dasharray="3 1" stroke-dashoffset="2"/>
<line x1="1987" y1="825.5" x2="1994" y2="825.5" stroke="#ff00ff" stroke-width="1" stroke-dasharray="3 1" stroke-dashoffset="0"/>
<line x1="1987" y1="826.5" x2="1994" y2="826.5" stroke="#ff00ff" stroke-width="1" stroke-dasharray="3 1" stroke-dashoffset="2"/>
<line x1="1993.5" y1="817" x2="1993.5" y2="826" stroke="#ff00ff" stroke-width="1" stroke-dasharray="3 1" stroke-dashoffset="0"/>
<line x1="1994.5" y1="817" x2="1994.5" y2="826" stroke="#ff00ff" stroke-width="1" stroke-dasharray="3 1" stroke-dashoffset="2"/>
<line x1="1993" y1="817.5" x2="2000" y2="817.5" stroke="#ff00ff" stroke-width="1" stroke-dasharray="3 1" stroke-dashoffset="0"/>
<line x1="1993" y1="818.5" x2="2000" y2="818.5" stroke="#ff00ff" stroke-width="1" stroke-dasharray="3 1" stroke-dashoffset="2"/>
<line x1="2014" y1="817.5" x2="2080" y2="817.5" stroke="#ff00ff" stroke-width="1" stroke-dasharray="3 1" stroke-dashoffset="0"/>
<line x1="2014" y1="818.5" x2="2080" y2="818.5" stroke="#ff00ff" stroke-width="1" stroke-dasharray="3 1" stroke-dashoffset="2"/>
<line x1="2039" y1="764.5" x2="2046" y2="764.5" stroke="#ff00ff" stroke-width="1" stroke-dasharray="3 1" stroke-dashoffset="0"/>
<line x1="2039" y1="765.5" x2="2046" y2="765.5" stroke="#ff00ff" stroke-width="1" stroke-dasharray="3 1" stroke-dashoffset="2"/>
<line x1="2045.5" y1="764" x2="2045.5" y2="810" stroke="#ff00ff" stroke-width="1" stroke-dasharray="3 1" stroke-dashoffset="0"/>
<line x1="2046.5" y1="764" x2="2046.5" y2="810" stroke="#ff00ff" stroke-width="1" stroke-dasharray="3 1" stroke-dashoffset="2"/>
<line x1="2045" y1="809.5" x2="2080" y2="809.5" stroke="#ff00ff" stroke-width="1" stroke-dasharray="3 1" stroke-dashoffset="0"/>
<line x1="2045" y1="810.5" x2="2080" y2="810.5" stroke="#ff00ff" stroke-width="1" stroke-dasharray="3 1" stroke-dashoffset="2"/>
<line x1="2064" y1="829.5" x2="2073" y2="829.5" stroke="#ff00ff" stroke-width="1" stroke-dasharray="3 1" stroke-dashoffset="0"/>
<line x1="2064" y1="830.5" x2="2073" y2="830.5" stroke="#ff00ff" stroke-width="1" stroke-dasharray="3 1" stroke-dashoffset="2"/>
<line x1="2072.5" y1="825" x2="2072.5" y2="830" stroke="#ff00ff" stroke-width="1" stroke-dasharray="3 1" stroke-dashoffset="0"/>
<line x1="2073.5" y1="825" x2="2073.5" y2="830" stroke="#ff00ff" stroke-width="1" stroke-dasharray="3 1" stroke-dashoffset="2"/>
<line x1="2072" y1="825.5" x2="2080" y2="825.5" stroke="#ff00ff" stroke-width="1" stroke-dasharray="3 1" stroke-dashoffset="0"/>
<line x1="2072" y1="826.5" x2="2080" y2="826.5" stroke="#ff00ff" stroke-width="1" stroke-dasharray="3 1" stroke-dashoffset="2"/>
<line x1="2067" y1="849.5" x2="2075" y2="849.5" stroke="#ff00ff" stroke-width="1" stroke-dasharray="3 1" stroke-dashoffset="0"/>
<line x1="2067" y1="850.5" x2="2075" y2="850.5" stroke="#ff00ff" stroke-width="1" stroke-dasharray="3 1" stroke-dashoffset="2"/>
<line x1="2074.5" y1="833" x2="2074.5" y2="850" stroke="#ff00ff" stroke-width="1" stroke-dasharray="3 1" stroke-dashoffset="0"/>
<line x1="2075.5" y1="833" x2="2075.5" y2="850" stroke="#ff00ff" stroke-width="1" stroke-dasharray="3 1" stroke-dashoffset="2"/>
<line x1="2074" y1="833.5" x2="2080" y2="833.5" stroke="#ff00ff" stroke-width="1" stroke-dasharray="3 1" stroke-dashoffset="0"/>
<line x1="2074" y1="834.5" x2="2080" y2="834.5" stroke="#ff00ff" stroke-width="1" stroke-dasharray="3 1" stroke-dashoffset="2"/>
<line x1="2110" y1="821.5" x2="2296" y2="821.5" stroke="#ff00ff" stroke-width="1" stroke-dasharray="3 1" stroke-dashoffset="0"/>
<line x1="2110" y1="822.5" x2="2296" y2="822.5" stroke="#ff00ff" stroke-width="1" stroke-dasharray="3 1" stroke-dashoffset="2"/>
<line x1="2303" y1="821.5" x2="2355" y2="821.5" stroke="#ff00ff" stroke-width="1" stroke-dasharray="3 1" stroke-dashoffset="0"/>
<line x1="2303" y1="822.5" x2="2355" y2="822.5" stroke="#ff00ff" stroke-width="1" stroke-dasharray="3 1" stroke-dashoffset="2"/>
<rect x="1766" y="958" width="1" height="29" fill="#0000ff"/>
<rect x="1766" y="958" width="10" height="1" fill="#0000ff"/>
<circle cx="1766.5" cy="986.5" r="2.6" fill="#0000ff"/>
<line x1="1801" y1="957.5" x2="1861" y2="957.5" stroke="#008000" stroke-width="1" stroke-dasharray="1 1" stroke-dashoffset="0"/>
<rect x="1849" y="970" width="12" height="1" fill="#0000ff"/>
<line x1="1892" y1="971.5" x2="1956" y2="971.5" stroke="#008000" stroke-width="1" stroke-dasharray="1 1" stroke-dashoffset="0"/>
<rect x="1964" y="986" width="31" height="1" fill="#0000ff"/>
<rect x="1994" y="973" width="1" height="14" fill="#0000ff"/>
<rect x="1994" y="973" width="11" height="1" fill="#0000ff"/>
<line x1="2036" y1="980.5" x2="2104" y2="980.5" stroke="#ff00ff" stroke-width="1" stroke-dasharray="3 1" stroke-dashoffset="0"/>
<line x1="2036" y1="981.5" x2="2104" y2="981.5" stroke="#ff00ff" stroke-width="1" stroke-dasharray="3 1" stroke-dashoffset="2"/>
<line x1="2090" y1="969.5" x2="2099" y2="969.5" stroke="#ff00ff" stroke-width="1" stroke-dasharray="3 1" stroke-dashoffset="0"/>
<line x1="2090" y1="970.5" x2="2099" y2="970.5" stroke="#ff00ff" stroke-width="1" stroke-dasharray="3 1" stroke-dashoffset="2"/>
<line x1="2098.5" y1="969" x2="2098.5" y2="973" stroke="#ff00ff" stroke-width="1" stroke-dasharray="3 1" stroke-dashoffset="0"/>
<line x1="2099.5" y1="969" x2="2099.5" y2="973" stroke="#ff00ff" stroke-width="1" stroke-dasharray="3 1" stroke-dashoffset="2"/>
<line x1="2098" y1="972.5" x2="2104" y2="972.5" stroke="#ff00ff" stroke-width="1" stroke-dasharray="3 1" stroke-dashoffset="0"/>
<line x1="2098" y1="973.5" x2="2104" y2="973.5" stroke="#ff00ff" stroke-width="1" stroke-dasharray="3 1" stroke-dashoffset="2"/>
<line x1="2066" y1="992.5" x2="2099" y2="992.5" stroke="#ff00ff" stroke-width="1" stroke-dasharray="3 1" stroke-dashoffset="0"/>
<line x1="2066" y1="993.5" x2="2099" y2="993.5" stroke="#ff00ff" stroke-width="1" stroke-dasharray="3 1" stroke-dashoffset="2"/>
<line x1="2098.5" y1="988" x2="2098.5" y2="993" stroke="#ff00ff" stroke-width="1" stroke-dasharray="3 1" stroke-dashoffset="0"/>
<line x1="2099.5" y1="988" x2="2099.5" y2="993" stroke="#ff00ff" stroke-width="1" stroke-dasharray="3 1" stroke-dashoffset="2"/>
<line x1="2098" y1="988.5" x2="2104" y2="988.5" stroke="#ff00ff" stroke-width="1" stroke-dasharray="3 1" stroke-dashoffset="0"/>
<line x1="2098" y1="989.5" x2="2104" y2="989.5" stroke="#ff00ff" stroke-width="1" stroke-dasharray="3 1" stroke-dashoffset="2"/>
<line x1="2134" y1="980.5" x2="2296" y2="980.5" stroke="#ff00ff" stroke-width="1" stroke-dasharray="3 1" stroke-dashoffset="0"/>
<line x1="2134" y1="981.5" x2="2296" y2="981.5" stroke="#ff00ff" stroke-width="1" stroke-dasharray="3 1" stroke-dashoffset="2"/>
<line x1="2303" y1="980.5" x2="2325" y2="980.5" stroke="#ff00ff" stroke-width="1" stroke-dasharray="3 1" stroke-dashoffset="0"/>
<line x1="2303" y1="981.5" x2="2325" y2="981.5" stroke="#ff00ff" stroke-width="1" stroke-dasharray="3 1" stroke-dashoffset="2"/>
<line x1="2324.5" y1="829" x2="2324.5" y2="981" stroke="#ff00ff" stroke-width="1" stroke-dasharray="3 1" stroke-dashoffset="0"/>
<line x1="2325.5" y1="829" x2="2325.5" y2="981" stroke="#ff00ff" stroke-width="1" stroke-dasharray="3 1" stroke-dashoffset="2"/>
<line x1="2324" y1="829.5" x2="2355" y2="829.5" stroke="#ff00ff" stroke-width="1" stroke-dasharray="3 1" stroke-dashoffset="0"/>
<line x1="2324" y1="830.5" x2="2355" y2="830.5" stroke="#ff00ff" stroke-width="1" stroke-dasharray="3 1" stroke-dashoffset="2"/>
<rect x="2385" y="584" width="9" height="3" fill="#808000"/>
<rect x="2392" y="585" width="3" height="63" fill="#808000"/>
<rect x="2393" y="646" width="147" height="3" fill="#808000"/>
<rect x="2385" y="585" width="9" height="1" fill="#ffff00"/>
<rect x="2393" y="585" width="1" height="63" fill="#ffff00"/>
<rect x="2393" y="647" width="147" height="1" fill="#ffff00"/>
<line x1="2385" y1="585.5" x2="2394" y2="585.5" stroke="#000" stroke-width="1" stroke-dasharray="2 2" stroke-dashoffset="0"/>
<line x1="2393.5" y1="585" x2="2393.5" y2="648" stroke="#000" stroke-width="1" stroke-dasharray="2 2" stroke-dashoffset="0"/>
<line x1="2393" y1="647.5" x2="2540" y2="647.5" stroke="#000" stroke-width="1" stroke-dasharray="2 2" stroke-dashoffset="0"/>
<rect x="2570" y="646" width="13" height="3" fill="#808000"/>
<rect x="2570" y="647" width="13" height="1" fill="#ffff00"/>
<line x1="2570" y1="647.5" x2="2583" y2="647.5" stroke="#000" stroke-width="1" stroke-dasharray="2 2" stroke-dashoffset="0"/>
<rect x="2613" y="646" width="13" height="3" fill="#808000"/>
<rect x="2613" y="647" width="13" height="1" fill="#ffff00"/>
<line x1="2613" y1="647.5" x2="2626" y2="647.5" stroke="#000" stroke-width="1" stroke-dasharray="2 2" stroke-dashoffset="0"/>
<rect x="2730" y="646" width="13" height="3" fill="#808000"/>
<rect x="2730" y="647" width="13" height="1" fill="#ffff00"/>
<line x1="2730" y1="647.5" x2="2743" y2="647.5" stroke="#000" stroke-width="1" stroke-dasharray="2 2" stroke-dashoffset="0"/>
<rect x="2730" y="638" width="8" height="1" fill="#008080"/>
<rect x="2737" y="623" width="1" height="16" fill="#008080"/>
<rect x="2737" y="623" width="6" height="1" fill="#008080"/>
<line x1="2386" y1="813.5" x2="2506" y2="813.5" stroke="#ff00ff" stroke-width="1" stroke-dasharray="3 1" stroke-dashoffset="0"/>
<line x1="2386" y1="814.5" x2="2506" y2="814.5" stroke="#ff00ff" stroke-width="1" stroke-dasharray="3 1" stroke-dashoffset="2"/>
<line x1="2391.5" y1="813" x2="2391.5" y2="854" stroke="#ff00ff" stroke-width="1" stroke-dasharray="3 1" stroke-dashoffset="0"/>
<line x1="2392.5" y1="813" x2="2392.5" y2="854" stroke="#ff00ff" stroke-width="1" stroke-dasharray="3 1" stroke-dashoffset="2"/>
<line x1="2391" y1="853.5" x2="2399" y2="853.5" stroke="#ff00ff" stroke-width="1" stroke-dasharray="3 1" stroke-dashoffset="0"/>
<line x1="2391" y1="854.5" x2="2399" y2="854.5" stroke="#ff00ff" stroke-width="1" stroke-dasharray="3 1" stroke-dashoffset="2"/>
<line x1="2436" y1="622.5" x2="2480" y2="622.5" stroke="#008000" stroke-width="1" stroke-dasharray="1 1" stroke-dashoffset="0"/>
<rect x="1110" y="10" width="5" height="7" fill="#fff"/>
<rect x="1112" y="9" width="1" height="8" fill="#008080"/>
<rect x="239" y="639" width="3" height="3" fill="#fff"/>
<rect x="240" y="639" width="1" height="3" fill="#008080"/>
<rect x="376" y="639" width="3" height="3" fill="#fff"/>
<rect x="377" y="639" width="1" height="3" fill="#008080"/>
<rect x="500" y="638" width="7" height="5" fill="#fff"/>
<rect x="501" y="638" width="1" height="5" fill="#008080"/>
<rect x="505" y="638" width="1" height="5" fill="#008080"/>
<rect x="502" y="638" width="3" height="5" fill="#ff00ff"/>
<rect x="503" y="639" width="1" height="2" fill="#fff"/>
<rect x="501" y="645" width="5" height="3" fill="#fff"/>
<rect x="501" y="646" width="5" height="1" fill="#008080"/>
<rect x="1111" y="602" width="3" height="3" fill="#fff"/>
<rect x="1112" y="602" width="1" height="3" fill="#008080"/>
<rect x="1223" y="614" width="3" height="3" fill="#fff"/>
<rect x="1223" y="615" width="3" height="1" fill="#008080"/>
<rect x="1216" y="560" width="1" height="3" fill="#fff"/>
<rect x="1216" y="561" width="1" height="1" fill="#0000ff"/>
<rect x="1223" y="560" width="3" height="3" fill="#fff"/>
<rect x="1223" y="561" width="3" height="1" fill="#0000ff"/>
<rect x="1239" y="646" width="3" height="3" fill="#fff"/>
<rect x="1240" y="646" width="1" height="3" fill="#0000ff"/>
<rect x="1239" y="638" width="3" height="1" fill="#fff"/>
<rect x="1240" y="638" width="1" height="1" fill="#0000ff"/>
<rect x="1425" y="741" width="3" height="1" fill="#fff"/>
<rect x="1426" y="741" width="1" height="1" fill="#0000ff"/>
<rect x="1425" y="749" width="3" height="3" fill="#fff"/>
<rect x="1426" y="749" width="1" height="3" fill="#0000ff"/>
<rect x="1425" y="813" width="3" height="2" fill="#fff"/>
<rect x="1426" y="813" width="1" height="2" fill="#0000ff"/>
<rect x="1441" y="638" width="3" height="1" fill="#fff"/>
<rect x="1442" y="638" width="1" height="1" fill="#0000ff"/>
<rect x="1441" y="646" width="3" height="3" fill="#fff"/>
<rect x="1442" y="646" width="1" height="3" fill="#0000ff"/>
<text x="6" y="624" fill="#000" font-size="11" text-anchor="start" font-weight="normal" font-family="Liberation Sans, sans-serif" textLength="102" lengthAdjust="spacingAndGlyphs">Create IP Connection</text>
<rect x="5" y="627" width="106" height="19" fill="#000"/>
<rect x="6" y="628" width="104" height="17" fill="#ffffd2"/>
<text x="8" y="643" fill="#000" font-size="7" text-anchor="start" font-weight="bold" font-family="Liberation Sans, sans-serif">?!</text>
<path d="M102.5 629.5 h3 l2 2 v4 h-5 Z" fill="none" stroke="#000" stroke-width="1"/>
<text x="102" y="643" fill="#000" font-size="7" text-anchor="start" font-weight="bold" font-family="Liberation Sans, sans-serif">?!</text>
<rect x="18.5" y="633.5" width="10" height="6" fill="none" stroke="#000"/><rect x="22.0" y="636" width="7" height="5" fill="#000"/>
<text x="64" y="640" fill="#000" font-size="11" text-anchor="middle" font-weight="normal" font-family="Liberation Sans, sans-serif" textLength="64" lengthAdjust="spacingAndGlyphs">IPConnection</text>
<text x="129" y="624" fill="#000" font-size="11" text-anchor="start" font-weight="normal" font-family="Liberation Sans, sans-serif" textLength="84" lengthAdjust="spacingAndGlyphs">Connect to brickd</text>
<rect x="128" y="627" width="107" height="64" fill="#000"/>
<rect x="129" y="628" width="105" height="17" fill="#ffffd2"/>
<rect x="129" y="646" width="105" height="14" fill="#fff"/>
<rect x="129" y="661" width="105" height="14" fill="#fff"/>
<rect x="129" y="676" width="105" height="14" fill="#fff"/>
<path d="M132.5 629.5 h3 l2 2 v4 h-5 Z" fill="none" stroke="#000" stroke-width="1"/>
<text x="131" y="643" fill="#000" font-size="7" text-anchor="start" font-weight="bold" font-family="Liberation Sans, sans-serif">?!</text>
<path d="M226.5 629.5 h3 l2 2 v4 h-5 Z" fill="none" stroke="#000" stroke-width="1"/>
<text x="226" y="643" fill="#000" font-size="7" text-anchor="start" font-weight="bold" font-family="Liberation Sans, sans-serif">?!</text>
<rect x="141.5" y="634.5" width="1" height="2" fill="#000"/><rect x="143.5" y="634.5" width="2" height="2" fill="#000"/>
<rect x="146.5" y="634.5" width="4" height="3" fill="#000"/>
<path d="M149.5 631.5 L154.0 636.0 L149.5 640.5 Z" fill="#000" shape-rendering="auto"/>
<text x="188" y="640" fill="#000" font-size="11" text-anchor="middle" font-weight="normal" font-family="Liberation Sans, sans-serif" textLength="64" lengthAdjust="spacingAndGlyphs">IPConnection</text>
<text x="181.0" y="657" fill="#000" font-size="11" text-anchor="middle" font-weight="normal" font-family="Liberation Sans, sans-serif" textLength="38" lengthAdjust="spacingAndGlyphs">Connect</text>
<text x="181.0" y="672" fill="#ff00ff" font-size="11" text-anchor="middle" font-weight="normal" font-family="Liberation Sans, sans-serif">host</text>
<path d="M131 665.0 L133.5 667.5 L131 670.0 Z" fill="#000"/>
<text x="181.0" y="687" fill="#0000ff" font-size="11" text-anchor="middle" font-weight="normal" font-family="Liberation Sans, sans-serif">port</text>
<path d="M131 680.0 L133.5 682.5 L131 685.0 Z" fill="#000"/>
<text x="252" y="624" fill="#000" font-size="11" text-anchor="start" font-weight="normal" font-family="Liberation Sans, sans-serif" textLength="100" lengthAdjust="spacingAndGlyphs">Create device object</text>
<rect x="251" y="627" width="120" height="49" fill="#000"/>
<rect x="252" y="628" width="118" height="17" fill="#ffffd2"/>
<rect x="252" y="646" width="118" height="14" fill="#fff"/>
<rect x="252" y="661" width="118" height="14" fill="#fff"/>
<text x="254" y="643" fill="#000" font-size="7" text-anchor="start" font-weight="bold" font-family="Liberation Sans, sans-serif">?!</text>
<path d="M362.5 629.5 h3 l2 2 v4 h-5 Z" fill="none" stroke="#000" stroke-width="1"/>
<text x="362" y="643" fill="#000" font-size="7" text-anchor="start" font-weight="bold" font-family="Liberation Sans, sans-serif">?!</text>
<rect x="265.0" y="633.5" width="10" height="6" fill="none" stroke="#000"/><rect x="268.5" y="636" width="7" height="5" fill="#000"/>
<text x="317" y="640" fill="#000" font-size="11" text-anchor="middle" font-weight="normal" font-family="Liberation Sans, sans-serif" textLength="77" lengthAdjust="spacingAndGlyphs">BrickletNFCRFID</text>
<text x="310.5" y="657" fill="#ff00ff" font-size="11" text-anchor="middle" font-weight="normal" font-family="Liberation Sans, sans-serif">uid</text>
<path d="M254 650.0 L256.5 652.5 L254 655.0 Z" fill="#000"/>
<text x="310.5" y="672" fill="#008080" font-size="11" text-anchor="middle" font-weight="normal" font-family="Liberation Sans, sans-serif">ipcon</text>
<path d="M254 665.0 L256.5 667.5 L254 670.0 Z" fill="#000"/>
<text x="6" y="673" fill="#000" font-size="11" text-anchor="start" font-weight="normal" font-family="Liberation Sans, sans-serif" textLength="20" lengthAdjust="spacingAndGlyphs">stop</text>
<rect x="5" y="676" width="38" height="38" fill="#008000"/>
<rect x="7" y="678" width="34" height="34" fill="#fff"/>
<rect x="8" y="679" width="32" height="1" fill="#008000"/>
<rect x="8" y="710" width="32" height="1" fill="#008000"/>
<rect x="8" y="679" width="1" height="32" fill="#008000"/>
<rect x="39" y="679" width="1" height="32" fill="#008000"/>
<rect x="9" y="680" width="30" height="26" fill="#e0e0e0"/>
<rect x="17" y="705" width="15" height="8" fill="#008000"/>
<rect x="18" y="706" width="13" height="6" fill="#fff"/>
<text x="24" y="711.5" fill="#008000" font-size="7" text-anchor="middle" font-weight="bold" font-family="Liberation Sans, sans-serif" textLength="11" lengthAdjust="spacingAndGlyphs">T F</text>
<ellipse cx="22.5" cy="694" rx="12.5" ry="6.5" fill="#eee" stroke="#888" stroke-width="1.6" stroke-dasharray="1 1" shape-rendering="auto"/>
<path d="M27 691 l6 3 l-6 3 Z" fill="#3c3" shape-rendering="auto"/>
<path d="M37.5 690.5 l4.5 4 l-4.5 4 Z" fill="#fff" stroke="#000" shape-rendering="auto"/>
<text x="74" y="673" fill="#000" font-size="11" text-anchor="start" font-weight="normal" font-family="Liberation Sans, sans-serif" textLength="20" lengthAdjust="spacingAndGlyphs">host</text>
<rect x="73" y="676" width="38" height="38" fill="#ff00ff"/>
<rect x="75" y="678" width="34" height="34" fill="#fff"/>
<rect x="76" y="679" width="32" height="1" fill="#ff00ff"/>
<rect x="76" y="710" width="32" height="1" fill="#ff00ff"/>
<rect x="76" y="679" width="1" height="32" fill="#ff00ff"/>
<rect x="107" y="679" width="1" height="32" fill="#ff00ff"/>
<rect x="77" y="680" width="30" height="26" fill="#e0e0e0"/>
<rect x="85" y="705" width="15" height="8" fill="#ff00ff"/>
<rect x="86" y="706" width="13" height="6" fill="#fff"/>
<text x="92" y="711.5" fill="#ff00ff" font-size="7" text-anchor="middle" font-weight="bold" font-family="Liberation Sans, sans-serif" textLength="11" lengthAdjust="spacingAndGlyphs">abc</text>
<rect x="78" y="689" width="28" height="11" fill="#999"/>
<rect x="79" y="690" width="26" height="9" fill="#fff"/>
<text x="82" y="697.5" fill="#000" font-size="9.5" text-anchor="start" font-weight="normal" font-family="Liberation Sans, sans-serif" textLength="17" lengthAdjust="spacingAndGlyphs">abc</text>
<path d="M105.5 690.5 l4.5 4 l-4.5 4 Z" fill="#fff" stroke="#000" shape-rendering="auto"/>
<text x="74" y="741" fill="#000" font-size="11" text-anchor="start" font-weight="normal" font-family="Liberation Sans, sans-serif" textLength="20" lengthAdjust="spacingAndGlyphs">port</text>
<rect x="73" y="744" width="38" height="38" fill="#0000ff"/>
<rect x="75" y="746" width="34" height="34" fill="#fff"/>
<rect x="76" y="747" width="32" height="1" fill="#0000ff"/>
<rect x="76" y="778" width="32" height="1" fill="#0000ff"/>
<rect x="76" y="747" width="1" height="32" fill="#0000ff"/>
<rect x="107" y="747" width="1" height="32" fill="#0000ff"/>
<rect x="77" y="748" width="30" height="26" fill="#e0e0e0"/>
<rect x="85" y="773" width="15" height="8" fill="#0000ff"/>
<rect x="86" y="774" width="13" height="6" fill="#fff"/>
<text x="92" y="779.5" fill="#0000ff" font-size="7" text-anchor="middle" font-weight="bold" font-family="Liberation Sans, sans-serif" textLength="11" lengthAdjust="spacingAndGlyphs">I32</text>
<rect x="85" y="754" width="21" height="17" fill="#999"/>
<rect x="86" y="755" width="19" height="15" fill="#fff"/>
<ellipse cx="81.5" cy="762" rx="3.5" ry="8" fill="#d8d8d8" stroke="#aaa" shape-rendering="auto"/>
<text x="86" y="767" fill="#000" font-size="10" text-anchor="start" font-weight="normal" font-family="Liberation Sans, sans-serif" textLength="17" lengthAdjust="spacingAndGlyphs">1.23</text>
<path d="M105.5 758.5 l4.5 4 l-4.5 4 Z" fill="#fff" stroke="#000" shape-rendering="auto"/>
<text x="197" y="718" fill="#000" font-size="11" text-anchor="start" font-weight="normal" font-family="Liberation Sans, sans-serif" textLength="14" lengthAdjust="spacingAndGlyphs">uid</text>
<rect x="196" y="721" width="38" height="38" fill="#ff00ff"/>
<rect x="198" y="723" width="34" height="34" fill="#fff"/>
<rect x="199" y="724" width="32" height="1" fill="#ff00ff"/>
<rect x="199" y="755" width="32" height="1" fill="#ff00ff"/>
<rect x="199" y="724" width="1" height="32" fill="#ff00ff"/>
<rect x="230" y="724" width="1" height="32" fill="#ff00ff"/>
<rect x="200" y="725" width="30" height="26" fill="#e0e0e0"/>
<rect x="208" y="750" width="15" height="8" fill="#ff00ff"/>
<rect x="209" y="751" width="13" height="6" fill="#fff"/>
<text x="215" y="756.5" fill="#ff00ff" font-size="7" text-anchor="middle" font-weight="bold" font-family="Liberation Sans, sans-serif" textLength="11" lengthAdjust="spacingAndGlyphs">abc</text>
<rect x="201" y="734" width="28" height="11" fill="#999"/>
<rect x="202" y="735" width="26" height="9" fill="#fff"/>
<text x="205" y="742.5" fill="#000" font-size="9.5" text-anchor="start" font-weight="normal" font-family="Liberation Sans, sans-serif" textLength="17" lengthAdjust="spacingAndGlyphs">abc</text>
<path d="M228.5 735.5 l4.5 4 l-4.5 4 Z" fill="#fff" stroke="#000" shape-rendering="auto"/>
<rect x="128" y="799" width="101" height="16" fill="#000"/>
<rect x="129" y="800" width="99" height="14" fill="#ffffcc"/>
<text x="130" y="811" fill="#000" font-size="11" text-anchor="start" font-weight="normal" font-family="Liberation Sans, sans-serif" textLength="95" lengthAdjust="spacingAndGlyphs">Change to your UID</text>
<path d="M182.5 799 L202 765" stroke="#000" stroke-width="1.5" shape-rendering="auto"/>
<path d="M204 760 L197 765 L203.5 768.5 Z" fill="#000" shape-rendering="auto"/>
<text x="383" y="605" fill="#000" font-size="11" text-anchor="start" font-weight="normal" font-family="Liberation Sans, sans-serif" textLength="69" lengthAdjust="spacingAndGlyphs">StateChanged</text>
<rect x="382" y="608" width="23" height="17" fill="#ff00ff"/>
<rect x="383" y="609" width="21" height="15" fill="#fff"/>
<rect x="384" y="610" width="19" height="1" fill="#ff00ff"/>
<rect x="384" y="622" width="19" height="1" fill="#ff00ff"/>
<rect x="384" y="610" width="1" height="13" fill="#ff00ff"/>
<rect x="402" y="610" width="1" height="13" fill="#ff00ff"/>
<rect x="387" y="614" width="4" height="1" fill="#ff00ff"/>
<rect x="387" y="617" width="4" height="1" fill="#ff00ff"/>
<rect x="392" y="614" width="3" height="5" fill="#ff00ff"/>
<rect x="396" y="614" width="4" height="5" fill="#ff00ff"/>
<rect x="464" y="612" width="32" height="32" fill="#000"/>
<rect x="465" y="613" width="30" height="30" fill="#ffffcc"/>
<circle cx="487" cy="621" r="6.5" fill="none" stroke="#000" stroke-width="1" shape-rendering="auto"/>
<path d="M487 618 v6 M485 625 h4 M485 618 a2 2 0 1 1 4 0" stroke="#000" fill="none" shape-rendering="auto"/>
<path d="M468 633.5 h11 M473.5 628 v11 M469.5 629.5 l8 8 M477.5 629.5 l-8 8 M471.5 630.5 h4 M471.5 636.5 h4" stroke="#000" shape-rendering="auto"/>
<path d="M508.5 650.5 H533 L543.5 661 V697.5 H508.5 Z" fill="#fff" stroke="#008080" shape-rendering="auto"/>
<rect x="510" y="663" width="32" height="32" fill="#000"/>
<rect x="511" y="664" width="30" height="30" fill="#fff"/>
<rect x="513" y="666" width="16" height="15" fill="#d8d8b0"/>
<rect x="514" y="667" width="11" height="9" fill="#000"/>
<path d="M515 673 q2 -6 4 0 t4 0" stroke="#0c0" fill="none" shape-rendering="auto"/>
<path d="M527 678 l8 3 l-8 3 Z" fill="#ff0" stroke="#880" shape-rendering="auto"/>
<path d="M513 682 q5 6 12 0" stroke="#00f" fill="none" shape-rendering="auto"/>
<text x="535" y="692" fill="#000" font-size="9" text-anchor="start" font-weight="normal" font-family="Liberation Sans, sans-serif">4</text>
<path d="M511 659 l4 -4 M512 655 h3 v3" stroke="#000" stroke-width="1.3" fill="none" shape-rendering="auto"/>
<path d="M524 652 l1.2 3 h3 l-2.4 2 l1 3 l-2.8 -2 l-2.8 2 l1 -3 l-2.4 -2 h3 Z" fill="#f63" shape-rendering="auto"/>
<rect x="564" y="634" width="134" height="64" fill="#000"/>
<rect x="565" y="635" width="132" height="17" fill="#ffffd2"/>
<rect x="565" y="653" width="132" height="14" fill="#fff"/>
<rect x="565" y="668" width="132" height="14" fill="#fff"/>
<rect x="565" y="683" width="132" height="14" fill="#c8c8c8"/>
<path d="M568.5 636.5 h3 l2 2 v4 h-5 Z" fill="none" stroke="#000" stroke-width="1"/>
<text x="567" y="650" fill="#000" font-size="7" text-anchor="start" font-weight="bold" font-family="Liberation Sans, sans-serif">?!</text>
<path d="M689.5 636.5 h3 l2 2 v4 h-5 Z" fill="none" stroke="#000" stroke-width="1"/>
<text x="689" y="650" fill="#000" font-size="7" text-anchor="start" font-weight="bold" font-family="Liberation Sans, sans-serif">?!</text>
<circle cx="584.0" cy="641" r="2" fill="none" stroke="#000"/><path d="M584.0 643 v4 M582.0 647 h4" stroke="#000"/>
<text x="638" y="647" fill="#000" font-size="11" text-anchor="middle" font-weight="normal" font-family="Liberation Sans, sans-serif" textLength="92" lengthAdjust="spacingAndGlyphs">Reg Event Callback</text>
<text x="627" y="664" fill="#008080" font-size="11" text-anchor="middle" font-weight="normal" font-family="Liberation Sans, sans-serif" textLength="68" lengthAdjust="spacingAndGlyphs">StateChanged</text>
<path d="M567 657.0 L569.5 659.5 L567 662.0 Z" fill="#000"/>
<path d="M683 657 L690 657 L686.5 660.5 Z" fill="#000"/>
<text x="627" y="679" fill="#008080" font-size="11" text-anchor="middle" font-weight="normal" font-family="Liberation Sans, sans-serif" textLength="29" lengthAdjust="spacingAndGlyphs">VI Ref</text>
<path d="M567 672.0 L569.5 674.5 L567 677.0 Z" fill="#000"/>
<text x="627" y="694" fill="#008080" font-size="11" text-anchor="middle" font-weight="normal" font-family="Liberation Sans, sans-serif" textLength="74" lengthAdjust="spacingAndGlyphs">User Parameter</text>
<path d="M567 687.0 L569.5 689.5 L567 692.0 Z" fill="#000"/>
<rect x="710" y="634" width="98" height="34" fill="#000"/>
<rect x="711" y="635" width="96" height="17" fill="#ffffd2"/>
<rect x="711" y="653" width="96" height="14" fill="#fff"/>
<path d="M714.5 636.5 h3 l2 2 v4 h-5 Z" fill="none" stroke="#000" stroke-width="1"/>
<text x="713" y="650" fill="#000" font-size="7" text-anchor="start" font-weight="bold" font-family="Liberation Sans, sans-serif">?!</text>
<path d="M799.5 636.5 h3 l2 2 v4 h-5 Z" fill="none" stroke="#000" stroke-width="1"/>
<text x="799" y="650" fill="#000" font-size="7" text-anchor="start" font-weight="bold" font-family="Liberation Sans, sans-serif">?!</text>
<circle cx="731.0" cy="641" r="2" fill="none" stroke="#000"/><path d="M731.0 643 v4 M729.0 647 h4" stroke="#000"/>
<text x="766" y="647" fill="#000" font-size="11" text-anchor="middle" font-weight="normal" font-family="Liberation Sans, sans-serif" textLength="54" lengthAdjust="spacingAndGlyphs">Reg Events</text>
<text x="754.5" y="664" fill="#008080" font-size="11" text-anchor="middle" font-weight="normal" font-family="Liberation Sans, sans-serif" textLength="53" lengthAdjust="spacingAndGlyphs">User Event</text>
<path d="M713 657.0 L715.5 659.5 L713 662.0 Z" fill="#000"/>
<path d="M793 657 L800 657 L796.5 660.5 Z" fill="#000"/>
<rect x="828" y="634" width="120" height="34" fill="#000"/>
<rect x="829" y="635" width="118" height="17" fill="#ffffd2"/>
<rect x="829" y="653" width="118" height="14" fill="#fff"/>
<path d="M832.5 636.5 h3 l2 2 v4 h-5 Z" fill="none" stroke="#000" stroke-width="1"/>
<text x="831" y="650" fill="#000" font-size="7" text-anchor="start" font-weight="bold" font-family="Liberation Sans, sans-serif">?!</text>
<path d="M939.5 636.5 h3 l2 2 v4 h-5 Z" fill="none" stroke="#000" stroke-width="1"/>
<text x="939" y="650" fill="#000" font-size="7" text-anchor="start" font-weight="bold" font-family="Liberation Sans, sans-serif">?!</text>
<rect x="842" y="641" width="7" height="3" fill="#000"/><circle cx="851" cy="642.5" r="2.6" fill="none" stroke="#000" stroke-width="1.6"/>
<text x="896" y="647" fill="#000" font-size="11" text-anchor="middle" font-weight="normal" font-family="Liberation Sans, sans-serif" textLength="77" lengthAdjust="spacingAndGlyphs">BrickletNFCRFID</text>
<text x="885" y="664" fill="#0000ff" font-size="11" text-anchor="middle" font-weight="normal" font-family="Liberation Sans, sans-serif" textLength="85" lengthAdjust="spacingAndGlyphs">TAG_TYPE_TYPE2</text>
<path d="M942 657.0 L944.5 659.5 L942 662.0 Z" fill="#000"/>
<text x="961" y="631" fill="#000" font-size="11" text-anchor="start" font-weight="normal" font-family="Liberation Sans, sans-serif" textLength="101" lengthAdjust="spacingAndGlyphs">Start looking for tags</text>
<rect x="960" y="634" width="120" height="49" fill="#000"/>
<rect x="961" y="635" width="118" height="17" fill="#ffffd2"/>
<rect x="961" y="653" width="118" height="14" fill="#fff"/>
<rect x="961" y="668" width="118" height="14" fill="#fff"/>
<path d="M964.5 636.5 h3 l2 2 v4 h-5 Z" fill="none" stroke="#000" stroke-width="1"/>
<text x="963" y="650" fill="#000" font-size="7" text-anchor="start" font-weight="bold" font-family="Liberation Sans, sans-serif">?!</text>
<path d="M1071.5 636.5 h3 l2 2 v4 h-5 Z" fill="none" stroke="#000" stroke-width="1"/>
<text x="1071" y="650" fill="#000" font-size="7" text-anchor="start" font-weight="bold" font-family="Liberation Sans, sans-serif">?!</text>
<rect x="974.0" y="641.5" width="1" height="2" fill="#000"/><rect x="976.0" y="641.5" width="2" height="2" fill="#000"/>
<rect x="979.0" y="641.5" width="4" height="3" fill="#000"/>
<path d="M982.0 638.5 L986.5 643.0 L982.0 647.5 Z" fill="#000" shape-rendering="auto"/>
<text x="1027" y="647" fill="#000" font-size="11" text-anchor="middle" font-weight="normal" font-family="Liberation Sans, sans-serif" textLength="77" lengthAdjust="spacingAndGlyphs">BrickletNFCRFID</text>
<text x="1019.5" y="664" fill="#000" font-size="11" text-anchor="middle" font-weight="normal" font-family="Liberation Sans, sans-serif" textLength="68" lengthAdjust="spacingAndGlyphs">RequestTagID</text>
<text x="1019.5" y="679" fill="#0000ff" font-size="11" text-anchor="middle" font-weight="normal" font-family="Liberation Sans, sans-serif" textLength="40" lengthAdjust="spacingAndGlyphs">tagType</text>
<path d="M963 672.0 L965.5 674.5 L963 677.0 Z" fill="#000"/>
<rect x="1117" y="599" width="9" height="9" fill="#000"/>
<rect x="1118" y="600" width="7" height="7" fill="#008080"/>
<rect x="1117" y="611" width="9" height="9" fill="#000"/>
<rect x="1118" y="612" width="7" height="7" fill="#008080"/>
<rect x="1117" y="643" width="9" height="9" fill="#000"/>
<rect x="1118" y="644" width="7" height="7" fill="#808000"/>
<rect x="1090" y="806" width="15" height="17" fill="#ff00ff"/>
<rect x="1092" y="808" width="11" height="13" fill="#fff"/>
<rect x="1090" y="806" width="4" height="17" fill="#ff00ff"/>
<rect x="1117" y="808" width="17" height="13" fill="#ff00ff"/>
<rect x="1119" y="810" width="13" height="9" fill="#ffffcc"/>
<path d="M1120 811 h10 l-5 5 Z" fill="#ff00ff"/>
<rect x="2505" y="808" width="16" height="13" fill="#ff00ff"/>
<rect x="2507" y="810" width="12" height="9" fill="#ffffcc"/>
<path d="M2508 817 h10 l-5 -5 Z" fill="#ff00ff"/>
<rect x="2512" y="643" width="9" height="9" fill="#000"/>
<rect x="2513" y="644" width="7" height="7" fill="#808000"/>
<rect x="1123" y="1058" width="16" height="16" fill="#0000ff"/>
<rect x="1125" y="1060" width="12" height="12" fill="#ffffcc"/>
<text x="1128" y="1071" fill="#0000ff" font-size="12" text-anchor="start" font-weight="bold" font-family="Liberation Sans, sans-serif">i</text>
<rect x="2479" y="614" width="16" height="16" fill="#008000"/>
<rect x="2480" y="615" width="14" height="14" fill="#fff"/>
<circle cx="2487" cy="622" r="5.5" fill="#f00" stroke="#000" stroke-width="0.8" shape-rendering="auto"/>
<rect x="2420" y="615" width="17" height="14" fill="#008000"/>
<rect x="2422" y="617" width="13" height="10" fill="#fff"/>
<text x="2424" y="626" fill="#008000" font-size="10" text-anchor="start" font-weight="bold" font-family="Liberation Sans, sans-serif">F</text>
<rect x="1149" y="597" width="14" height="12" fill="#008080"/>
<rect x="1150" y="598" width="12" height="10" fill="#ffffcc"/>
<circle cx="1153.5" cy="601" r="2" fill="none" stroke="#008080" shape-rendering="auto"/>
<path d="M1151 599 l5 5 M1153.5 603 v3 M1151 606.5 h5 M1157 602.5 h4 M1159 600.5 l2 2 l-2 2" stroke="#008080" fill="none"/>
<rect x="2446" y="597" width="14" height="12" fill="#008080"/>
<rect x="2447" y="598" width="12" height="10" fill="#ffffcc"/>
<circle cx="2450.5" cy="601" r="2" fill="none" stroke="#008080" shape-rendering="auto"/>
<path d="M2448 599 l5 5 M2450.5 603 v3 M2448 606.5 h5 M2454 602.5 h4 M2456 600.5 l2 2 l-2 2" stroke="#008080" fill="none"/>
<rect x="1149" y="611" width="9" height="9" fill="#000"/>
<rect x="1150" y="612" width="7" height="7" fill="#008080"/>
<rect x="1149" y="643" width="9" height="9" fill="#000"/>
<rect x="1150" y="644" width="7" height="7" fill="#808000"/>
<rect x="1149" y="810" width="9" height="9" fill="#000"/>
<rect x="1150" y="811" width="7" height="7" fill="#ff00ff"/>
<rect x="2451" y="643" width="9" height="9" fill="#000"/>
<rect x="2452" y="644" width="7" height="7" fill="#808000"/>
<rect x="2451" y="810" width="9" height="9" fill="#000"/>
<rect x="2452" y="811" width="7" height="7" fill="#ff00ff"/>
<rect x="2452" y="619" width="8" height="8" fill="#000"/>
<rect x="2453" y="620" width="6" height="6" fill="#008000"/>
<rect x="1149" y="71" width="15" height="15" fill="#0000ff"/>
<rect x="1151" y="73" width="11" height="11" fill="#ffffcc"/>
<path d="M1152 74 h9 M1152 82 h9 M1153 74 l7 8 M1160 74 l-7 8" stroke="#0000ff" stroke-width="1.5" fill="none"/>
<rect x="1705" y="71" width="199" height="15" fill="#000"/>
<rect x="1706" y="72" width="197" height="13" fill="#fff"/>
<rect x="1713" y="71" width="1" height="15" fill="#000"/>
<rect x="1895" y="71" width="1" height="15" fill="#000"/>
<path d="M1707 78.5 l5 -4.5 v9 Z" fill="#000"/><path d="M1901 78.5 l-5 -4.5 v9 Z" fill="#000"/>
<text x="1716" y="83" fill="#888" font-size="11" text-anchor="start" font-weight="normal" font-family="Liberation Sans, sans-serif" textLength="14" lengthAdjust="spacingAndGlyphs">[0]</text>
<text x="1735" y="83" fill="#000" font-size="11" text-anchor="start" font-weight="normal" font-family="Liberation Sans, sans-serif" textLength="143" lengthAdjust="spacingAndGlyphs">&lt;StateChanged&gt;: User Event</text>
<path d="M1885 77 L1892 77 L1888.5 80.5 Z" fill="#000"/>
<rect x="1157" y="554" width="41" height="31" fill="#000"/>
<rect x="1158" y="555" width="39" height="29" fill="#fff"/>
<rect x="1158" y="555" width="7" height="29" fill="#e0e0c8"/>
<rect x="1160" y="556" width="3" height="27" fill="#666"/>
<rect x="1165" y="555" width="1" height="29" fill="#000"/>
<rect x="1166" y="569" width="31" height="1" fill="#000"/>
<text x="1181" y="566" fill="#0000ff" font-size="11" text-anchor="middle" font-weight="normal" font-family="Liberation Sans, sans-serif" textLength="24" lengthAdjust="spacingAndGlyphs">state</text>
<text x="1181" y="581" fill="#008000" font-size="11" text-anchor="middle" font-weight="normal" font-family="Liberation Sans, sans-serif" textLength="16" lengthAdjust="spacingAndGlyphs">idle</text>
<rect x="1245" y="472" width="175" height="34" fill="#000"/>
<rect x="1246" y="473" width="173" height="17" fill="#ffffd2"/>
<rect x="1246" y="491" width="173" height="14" fill="#fff"/>
<path d="M1249.5 474.5 h3 l2 2 v4 h-5 Z" fill="none" stroke="#000" stroke-width="1"/>
<text x="1248" y="488" fill="#000" font-size="7" text-anchor="start" font-weight="bold" font-family="Liberation Sans, sans-serif">?!</text>
<path d="M1411.5 474.5 h3 l2 2 v4 h-5 Z" fill="none" stroke="#000" stroke-width="1"/>
<text x="1411" y="488" fill="#000" font-size="7" text-anchor="start" font-weight="bold" font-family="Liberation Sans, sans-serif">?!</text>
<rect x="1259" y="479" width="7" height="3" fill="#000"/><circle cx="1268" cy="480.5" r="2.6" fill="none" stroke="#000" stroke-width="1.6"/>
<text x="1338" y="485" fill="#000" font-size="11" text-anchor="middle" font-weight="normal" font-family="Liberation Sans, sans-serif" textLength="78" lengthAdjust="spacingAndGlyphs">BrickletNFCRFID</text>
<text x="1246" y="502" fill="#0000ff" font-size="11" text-anchor="start" font-weight="normal" font-family="Liberation Sans, sans-serif" textLength="165" lengthAdjust="spacingAndGlyphs">STATE_REQUEST_TAG_ID_READY</text>
<path d="M1414 495.0 L1416.5 497.5 L1414 500.0 Z" fill="#000"/>
<rect x="1258" y="634" width="150" height="34" fill="#000"/>
<rect x="1259" y="635" width="148" height="17" fill="#ffffd2"/>
<rect x="1259" y="653" width="148" height="14" fill="#fff"/>
<path d="M1262.5 636.5 h3 l2 2 v4 h-5 Z" fill="none" stroke="#000" stroke-width="1"/>
<text x="1261" y="650" fill="#000" font-size="7" text-anchor="start" font-weight="bold" font-family="Liberation Sans, sans-serif">?!</text>
<path d="M1399.5 636.5 h3 l2 2 v4 h-5 Z" fill="none" stroke="#000" stroke-width="1"/>
<text x="1399" y="650" fill="#000" font-size="7" text-anchor="start" font-weight="bold" font-family="Liberation Sans, sans-serif">?!</text>
<rect x="1272" y="641" width="7" height="3" fill="#000"/><circle cx="1281" cy="642.5" r="2.6" fill="none" stroke="#000" stroke-width="1.6"/>
<text x="1339" y="647" fill="#000" font-size="11" text-anchor="middle" font-weight="normal" font-family="Liberation Sans, sans-serif" textLength="78" lengthAdjust="spacingAndGlyphs">BrickletNFCRFID</text>
<text x="1260" y="664" fill="#0000ff" font-size="11" text-anchor="start" font-weight="normal" font-family="Liberation Sans, sans-serif" textLength="140" lengthAdjust="spacingAndGlyphs">STATE_WRITE_PAGE_READY</text>
<path d="M1402 657.0 L1404.5 659.5 L1402 662.0 Z" fill="#000"/>
<rect x="1251" y="737" width="162" height="34" fill="#000"/>
<rect x="1252" y="738" width="160" height="17" fill="#ffffd2"/>
<rect x="1252" y="756" width="160" height="14" fill="#fff"/>
<path d="M1255.5 739.5 h3 l2 2 v4 h-5 Z" fill="none" stroke="#000" stroke-width="1"/>
<text x="1254" y="753" fill="#000" font-size="7" text-anchor="start" font-weight="bold" font-family="Liberation Sans, sans-serif">?!</text>
<path d="M1404.5 739.5 h3 l2 2 v4 h-5 Z" fill="none" stroke="#000" stroke-width="1"/>
<text x="1404" y="753" fill="#000" font-size="7" text-anchor="start" font-weight="bold" font-family="Liberation Sans, sans-serif">?!</text>
<rect x="1265" y="744" width="7" height="3" fill="#000"/><circle cx="1274" cy="745.5" r="2.6" fill="none" stroke="#000" stroke-width="1.6"/>
<text x="1339" y="750" fill="#000" font-size="11" text-anchor="middle" font-weight="normal" font-family="Liberation Sans, sans-serif" textLength="78" lengthAdjust="spacingAndGlyphs">BrickletNFCRFID</text>
<text x="1252" y="767" fill="#0000ff" font-size="11" text-anchor="start" font-weight="normal" font-family="Liberation Sans, sans-serif" textLength="154" lengthAdjust="spacingAndGlyphs">STATE_REQUEST_PAGE_READY</text>
<path d="M1407 760.0 L1409.5 762.5 L1407 765.0 Z" fill="#000"/>
<path d="M1447.5 491.5 L1468 501.5 L1447.5 511.5 Z" fill="#ffffcc" stroke="#000" shape-rendering="auto"/>
<rect x="1450" y="499" width="7" height="2" fill="#000"/>
<rect x="1450" y="503" width="7" height="2" fill="#000"/>
<path d="M1447.5 666.5 L1468 676.5 L1447.5 686.5 Z" fill="#ffffcc" stroke="#000" shape-rendering="auto"/>
<rect x="1450" y="674" width="7" height="2" fill="#000"/>
<rect x="1450" y="678" width="7" height="2" fill="#000"/>
<path d="M1447.5 756.5 L1468 766.5 L1447.5 776.5 Z" fill="#ffffcc" stroke="#000" shape-rendering="auto"/>
<rect x="1450" y="764" width="7" height="2" fill="#000"/>
<rect x="1450" y="768" width="7" height="2" fill="#000"/>
<rect x="1815" y="469" width="9" height="9" fill="#000"/>
<rect x="1816" y="470" width="7" height="7" fill="#008080"/>
<rect x="1815" y="481" width="9" height="9" fill="#000"/>
<rect x="1816" y="482" width="7" height="7" fill="#808000"/>
<rect x="1815" y="493" width="8" height="12" fill="#008000"/>
<rect x="1816" y="494" width="6" height="10" fill="#fff"/>
<text x="1816" y="503" fill="#008000" font-size="10" text-anchor="start" font-weight="normal" font-family="Liberation Sans, sans-serif">?</text>
<rect x="2295" y="144" width="9" height="9" fill="#000"/>
<rect x="2296" y="145" width="7" height="7" fill="#808000"/>
<rect x="2295" y="476" width="9" height="9" fill="#000"/>
<rect x="2296" y="477" width="7" height="7" fill="#ff00ff"/>
<rect x="2028" y="118" width="62" height="15" fill="#000"/>
<rect x="2029" y="119" width="60" height="13" fill="#fff"/>
<rect x="2037" y="118" width="1" height="15" fill="#000"/>
<rect x="2080" y="118" width="1" height="15" fill="#000"/>
<path d="M2030 125.5 l5 -4.5 v9 Z" fill="#000"/>
<path d="M2087 125.5 l-5 -4.5 v9 Z" fill="#000"/>
<path d="M2069 123 L2076 123 L2072.5 126.5 Z" fill="#000"/>
<text x="2040" y="130" fill="#000" font-size="11" text-anchor="start" font-weight="normal" font-family="Liberation Sans, sans-serif" textLength="22" lengthAdjust="spacingAndGlyphs">True</text>
<rect x="1771" y="572" width="9" height="9" fill="#000"/>
<rect x="1772" y="573" width="7" height="7" fill="#008080"/>
<rect x="1771" y="643" width="9" height="9" fill="#000"/>
<rect x="1772" y="644" width="7" height="7" fill="#808000"/>
<rect x="1771" y="655" width="8" height="12" fill="#008000"/>
<rect x="1772" y="656" width="6" height="10" fill="#fff"/>
<text x="1772" y="665" fill="#008000" font-size="10" text-anchor="start" font-weight="normal" font-family="Liberation Sans, sans-serif">?</text>
<rect x="2295" y="581" width="9" height="9" fill="#000"/>
<rect x="2296" y="582" width="7" height="7" fill="#808000"/>
<rect x="2295" y="645" width="9" height="9" fill="#000"/>
<rect x="2296" y="646" width="7" height="7" fill="#ff00ff"/>
<rect x="2006" y="556" width="62" height="15" fill="#000"/>
<rect x="2007" y="557" width="60" height="13" fill="#fff"/>
<rect x="2015" y="556" width="1" height="15" fill="#000"/>
<rect x="2058" y="556" width="1" height="15" fill="#000"/>
<path d="M2008 563.5 l5 -4.5 v9 Z" fill="#000"/>
<path d="M2065 563.5 l-5 -4.5 v9 Z" fill="#000"/>
<path d="M2047 561 L2054 561 L2050.5 564.5 Z" fill="#000"/>
<text x="2018" y="568" fill="#000" font-size="11" text-anchor="start" font-weight="normal" font-family="Liberation Sans, sans-serif" textLength="22" lengthAdjust="spacingAndGlyphs">True</text>
<rect x="1480" y="734" width="9" height="9" fill="#000"/>
<rect x="1481" y="735" width="7" height="7" fill="#008080"/>
<rect x="1480" y="746" width="9" height="9" fill="#000"/>
<rect x="1481" y="747" width="7" height="7" fill="#808000"/>
<rect x="1480" y="760" width="8" height="12" fill="#008000"/>
<rect x="1481" y="761" width="6" height="10" fill="#fff"/>
<text x="1481" y="770" fill="#008000" font-size="10" text-anchor="start" font-weight="normal" font-family="Liberation Sans, sans-serif">?</text>
<rect x="2295" y="746" width="9" height="9" fill="#000"/>
<rect x="2296" y="747" width="7" height="7" fill="#808000"/>
<rect x="2295" y="818" width="9" height="9" fill="#000"/>
<rect x="2296" y="819" width="7" height="7" fill="#ff00ff"/>
<rect x="1861" y="718" width="62" height="15" fill="#000"/>
<rect x="1862" y="719" width="60" height="13" fill="#fff"/>
<rect x="1870" y="718" width="1" height="15" fill="#000"/>
<rect x="1913" y="718" width="1" height="15" fill="#000"/>
<path d="M1863 725.5 l5 -4.5 v9 Z" fill="#000"/>
<path d="M1920 725.5 l-5 -4.5 v9 Z" fill="#000"/>
<path d="M1902 723 L1909 723 L1905.5 726.5 Z" fill="#000"/>
<text x="1873" y="730" fill="#000" font-size="11" text-anchor="start" font-weight="normal" font-family="Liberation Sans, sans-serif" textLength="22" lengthAdjust="spacingAndGlyphs">True</text>
<rect x="1955" y="965" width="8" height="12" fill="#008000"/>
<rect x="1956" y="966" width="6" height="10" fill="#fff"/>
<text x="1956" y="975" fill="#008000" font-size="10" text-anchor="start" font-weight="normal" font-family="Liberation Sans, sans-serif">?</text>
<rect x="1955" y="982" width="10" height="10" fill="#000"/>
<rect x="1956" y="983" width="8" height="8" fill="#0000ff"/>
<rect x="2295" y="977" width="9" height="9" fill="#000"/>
<rect x="2296" y="978" width="7" height="7" fill="#ff00ff"/>
<rect x="2098" y="945" width="62" height="15" fill="#000"/>
<rect x="2099" y="946" width="60" height="13" fill="#fff"/>
<rect x="2107" y="945" width="1" height="15" fill="#000"/>
<rect x="2150" y="945" width="1" height="15" fill="#000"/>
<path d="M2100 952.5 l5 -4.5 v9 Z" fill="#000"/>
<path d="M2157 952.5 l-5 -4.5 v9 Z" fill="#000"/>
<path d="M2139 950 L2146 950 L2142.5 953.5 Z" fill="#000"/>
<text x="2110" y="957" fill="#000" font-size="11" text-anchor="start" font-weight="normal" font-family="Liberation Sans, sans-serif" textLength="22" lengthAdjust="spacingAndGlyphs">True</text>
<rect x="2097" y="145" width="13" height="17" fill="#0000ff"/>
<rect x="2099" y="147" width="9" height="13" fill="#fff"/>
<text x="2100" y="158" fill="#000" font-size="11" text-anchor="start" font-weight="normal" font-family="Liberation Sans, sans-serif">5</text>
<rect x="2051" y="174" width="32" height="18" fill="#0000ff"/>
<rect x="2052" y="175" width="30" height="1" fill="#fff"/>
<rect x="2052" y="175" width="1" height="16" fill="#fff"/>
<rect x="2081" y="175" width="1" height="16" fill="#fff"/>
<rect x="2054" y="177" width="5" height="13" fill="#fff"/>
<path d="M2054 180 L2056.5 177.5 L2059 180 Z M2054 186 L2056.5 188.5 L2059 186 Z" fill="#0000ff"/>
<rect x="2054" y="181" width="5" height="1" fill="#0000ff"/>
<rect x="2054" y="184" width="5" height="1" fill="#0000ff"/>
<rect x="2060" y="177" width="20" height="13" fill="#fff"/>
<text x="2062" y="187.5" fill="#000" font-size="11" text-anchor="start" font-weight="normal" font-family="Liberation Sans, sans-serif">0</text>
<rect x="2083" y="174" width="27" height="278" fill="#0000ff"/>
<rect x="2084" y="175" width="25" height="276" fill="#fff"/>
<rect x="2085" y="176" width="23" height="274" fill="#0000ff"/>
<rect x="2088" y="179" width="17" height="13" fill="#fff"/>
<text x="2089" y="190" fill="#000" font-size="11" text-anchor="start" font-weight="normal" font-family="Liberation Sans, sans-serif">0</text>
<rect x="2088" y="196" width="17" height="13" fill="#fff"/>
<text x="2089" y="207" fill="#000" font-size="11" text-anchor="start" font-weight="normal" font-family="Liberation Sans, sans-serif">1</text>
<rect x="2088" y="213" width="17" height="13" fill="#fff"/>
<text x="2089" y="224" fill="#000" font-size="11" text-anchor="start" font-weight="normal" font-family="Liberation Sans, sans-serif">2</text>
<rect x="2088" y="230" width="17" height="13" fill="#fff"/>
<text x="2089" y="241" fill="#000" font-size="11" text-anchor="start" font-weight="normal" font-family="Liberation Sans, sans-serif">3</text>
<rect x="2088" y="247" width="17" height="13" fill="#fff"/>
<text x="2089" y="258" fill="#000" font-size="11" text-anchor="start" font-weight="normal" font-family="Liberation Sans, sans-serif">4</text>
<rect x="2088" y="264" width="17" height="13" fill="#fff"/>
<text x="2089" y="275" fill="#000" font-size="11" text-anchor="start" font-weight="normal" font-family="Liberation Sans, sans-serif">5</text>
<rect x="2088" y="281" width="17" height="13" fill="#fff"/>
<text x="2089" y="292" fill="#000" font-size="11" text-anchor="start" font-weight="normal" font-family="Liberation Sans, sans-serif">6</text>
<rect x="2088" y="298" width="17" height="13" fill="#fff"/>
<text x="2089" y="309" fill="#000" font-size="11" text-anchor="start" font-weight="normal" font-family="Liberation Sans, sans-serif">7</text>
<rect x="2088" y="315" width="17" height="13" fill="#fff"/>
<text x="2089" y="326" fill="#000" font-size="11" text-anchor="start" font-weight="normal" font-family="Liberation Sans, sans-serif">8</text>
<rect x="2088" y="332" width="17" height="13" fill="#fff"/>
<text x="2089" y="343" fill="#000" font-size="11" text-anchor="start" font-weight="normal" font-family="Liberation Sans, sans-serif">9</text>
<rect x="2088" y="349" width="17" height="13" fill="#fff"/>
<text x="2089" y="360" fill="#000" font-size="11" text-anchor="start" font-weight="normal" font-family="Liberation Sans, sans-serif">10</text>
<rect x="2088" y="366" width="17" height="13" fill="#fff"/>
<text x="2089" y="377" fill="#000" font-size="11" text-anchor="start" font-weight="normal" font-family="Liberation Sans, sans-serif">11</text>
<rect x="2088" y="383" width="17" height="13" fill="#fff"/>
<text x="2089" y="394" fill="#000" font-size="11" text-anchor="start" font-weight="normal" font-family="Liberation Sans, sans-serif">12</text>
<rect x="2088" y="400" width="17" height="13" fill="#fff"/>
<text x="2089" y="411" fill="#000" font-size="11" text-anchor="start" font-weight="normal" font-family="Liberation Sans, sans-serif">13</text>
<rect x="2088" y="417" width="17" height="13" fill="#fff"/>
<text x="2089" y="428" fill="#000" font-size="11" text-anchor="start" font-weight="normal" font-family="Liberation Sans, sans-serif">14</text>
<rect x="2088" y="434" width="17" height="13" fill="#fff"/>
<text x="2089" y="445" fill="#000" font-size="11" text-anchor="start" font-weight="normal" font-family="Liberation Sans, sans-serif">15</text>
<rect x="2138" y="258" width="120" height="64" fill="#000"/>
<rect x="2139" y="259" width="118" height="17" fill="#ffffd2"/>
<rect x="2139" y="277" width="118" height="14" fill="#fff"/>
<rect x="2139" y="292" width="118" height="14" fill="#fff"/>
<rect x="2139" y="307" width="118" height="14" fill="#fff"/>
<path d="M2142.5 260.5 h3 l2 2 v4 h-5 Z" fill="none" stroke="#000" stroke-width="1"/>
<text x="2141" y="274" fill="#000" font-size="7" text-anchor="start" font-weight="bold" font-family="Liberation Sans, sans-serif">?!</text>
<path d="M2249.5 260.5 h3 l2 2 v4 h-5 Z" fill="none" stroke="#000" stroke-width="1"/>
<text x="2249" y="274" fill="#000" font-size="7" text-anchor="start" font-weight="bold" font-family="Liberation Sans, sans-serif">?!</text>
<rect x="2151.5" y="265.5" width="1" height="2" fill="#000"/><rect x="2153.5" y="265.5" width="2" height="2" fill="#000"/>
<rect x="2156.5" y="265.5" width="4" height="3" fill="#000"/>
<path d="M2159.5 262.5 L2164.0 267.0 L2159.5 271.5 Z" fill="#000" shape-rendering="auto"/>
<text x="2205" y="271" fill="#000" font-size="11" text-anchor="middle" font-weight="normal" font-family="Liberation Sans, sans-serif" textLength="78" lengthAdjust="spacingAndGlyphs">BrickletNFCRFID</text>
<text x="2197.5" y="288" fill="#000" font-size="11" text-anchor="middle" font-weight="normal" font-family="Liberation Sans, sans-serif" textLength="50" lengthAdjust="spacingAndGlyphs">WritePage</text>
<text x="2197.5" y="303" fill="#0000ff" font-size="11" text-anchor="middle" font-weight="normal" font-family="Liberation Sans, sans-serif" textLength="24" lengthAdjust="spacingAndGlyphs">page</text>
<path d="M2141 296.0 L2143.5 298.5 L2141 301.0 Z" fill="#000"/>
<text x="2197.5" y="318" fill="#0000ff" font-size="11" text-anchor="middle" font-weight="normal" font-family="Liberation Sans, sans-serif" textLength="22" lengthAdjust="spacingAndGlyphs">data</text>
<path d="M2141 311.0 L2143.5 313.5 L2141 316.0 Z" fill="#000"/>
<path d="M2252 311.0 L2254.5 313.5 L2252 316.0 Z" fill="#000"/>
<rect x="2051" y="460" width="59" height="17" fill="#ff00ff"/>
<rect x="2053" y="462" width="55" height="13" fill="#fff"/>
<rect x="2051" y="460" width="4" height="17" fill="#ff00ff"/>
<text x="2056" y="472.5" fill="#000" font-size="11" text-anchor="start" font-weight="normal" font-family="Liberation Sans, sans-serif" textLength="50" lengthAdjust="spacingAndGlyphs">Tag found</text>
<rect x="1959" y="477" width="81" height="16" fill="#ff00ff"/>
<rect x="1961" y="479" width="77" height="12" fill="#fff"/>
<rect x="1959" y="477" width="4" height="16" fill="#ff00ff"/>
<text x="1964" y="488.5" fill="#000" font-size="11" text-anchor="start" font-weight="normal" font-family="Liberation Sans, sans-serif" textLength="70" lengthAdjust="spacingAndGlyphs">Writing data...</text>
<rect x="2093" y="489" width="16" height="16" fill="#ff00ff"/>
<rect x="2095" y="491" width="12" height="12" fill="#ffffcc"/>
<path d="M2103.5 492.5 L2105.5 492.5 L2105.5 499.5 L2100.5 499.5 L2100.5 501.5 L2096.5 497.5 L2100.5 493.5 L2100.5 495.5 L2103.5 495.5 Z" fill="none" stroke="#ff00ff" stroke-width="1" shape-rendering="auto"/>
<rect x="2156" y="464" width="32" height="33" fill="#000"/>
<rect x="2157" y="465" width="30" height="31" fill="#ffffcc"/>
<rect x="2172" y="465" width="1" height="31" fill="#000"/>
<rect x="2158.5" y="466.5" width="6" height="4" fill="#fff" stroke="#000"/>
<path d="M2166 468.5 h3" stroke="#000"/><path d="M2168 466 l2.5 2.5 l-2.5 2.5 Z" fill="#000"/>
<rect x="2158.5" y="474.5" width="6" height="4" fill="url(#dith)" stroke="#000"/>
<path d="M2166 476.5 h3" stroke="#000"/><path d="M2168 474 l2.5 2.5 l-2.5 2.5 Z" fill="#000"/>
<rect x="2158.5" y="482.5" width="6" height="4" fill="url(#dith)" stroke="#000"/>
<path d="M2166 484.5 h3" stroke="#000"/><path d="M2168 482 l2.5 2.5 l-2.5 2.5 Z" fill="#000"/>
<rect x="2158.5" y="490.5" width="6" height="4" fill="url(#dith)" stroke="#000"/>
<path d="M2166 492.5 h3" stroke="#000"/><path d="M2168 490 l2.5 2.5 l-2.5 2.5 Z" fill="#000"/>
<rect x="2174.5" y="477.5" width="10" height="6" fill="url(#dith)" stroke="#000"/>
<rect x="2176" y="479.0" width="2" height="4" fill="#fff"/>
<rect x="1815" y="603" width="13" height="17" fill="#0000ff"/>
<rect x="1817" y="605" width="9" height="13" fill="#fff"/>
<text x="1818" y="616" fill="#000" font-size="11" text-anchor="start" font-weight="normal" font-family="Liberation Sans, sans-serif">5</text>
<rect x="1838" y="572" width="120" height="49" fill="#000"/>
<rect x="1839" y="573" width="118" height="17" fill="#ffffd2"/>
<rect x="1839" y="591" width="118" height="14" fill="#fff"/>
<rect x="1839" y="606" width="118" height="14" fill="#fff"/>
<path d="M1842.5 574.5 h3 l2 2 v4 h-5 Z" fill="none" stroke="#000" stroke-width="1"/>
<text x="1841" y="588" fill="#000" font-size="7" text-anchor="start" font-weight="bold" font-family="Liberation Sans, sans-serif">?!</text>
<path d="M1949.5 574.5 h3 l2 2 v4 h-5 Z" fill="none" stroke="#000" stroke-width="1"/>
<text x="1949" y="588" fill="#000" font-size="7" text-anchor="start" font-weight="bold" font-family="Liberation Sans, sans-serif">?!</text>
<rect x="1851.5" y="579.5" width="1" height="2" fill="#000"/><rect x="1853.5" y="579.5" width="2" height="2" fill="#000"/>
<rect x="1856.5" y="579.5" width="4" height="3" fill="#000"/>
<path d="M1859.5 576.5 L1864.0 581.0 L1859.5 585.5 Z" fill="#000" shape-rendering="auto"/>
<text x="1905" y="585" fill="#000" font-size="11" text-anchor="middle" font-weight="normal" font-family="Liberation Sans, sans-serif" textLength="78" lengthAdjust="spacingAndGlyphs">BrickletNFCRFID</text>
<text x="1897.5" y="602" fill="#000" font-size="11" text-anchor="middle" font-weight="normal" font-family="Liberation Sans, sans-serif" textLength="64" lengthAdjust="spacingAndGlyphs">RequestPage</text>
<text x="1897.5" y="617" fill="#0000ff" font-size="11" text-anchor="middle" font-weight="normal" font-family="Liberation Sans, sans-serif" textLength="24" lengthAdjust="spacingAndGlyphs">page</text>
<path d="M1841 610.0 L1843.5 612.5 L1841 615.0 Z" fill="#000"/>
<rect x="1939" y="650" width="101" height="17" fill="#ff00ff"/>
<rect x="1941" y="652" width="97" height="13" fill="#fff"/>
<rect x="1939" y="650" width="4" height="17" fill="#ff00ff"/>
<text x="1944" y="662.5" fill="#000" font-size="11" text-anchor="start" font-weight="normal" font-family="Liberation Sans, sans-serif" textLength="90" lengthAdjust="spacingAndGlyphs">Requesting data...</text>
<rect x="2051" y="648" width="16" height="16" fill="#ff00ff"/>
<rect x="2053" y="650" width="12" height="12" fill="#ffffcc"/>
<path d="M2061.5 651.5 L2063.5 651.5 L2063.5 658.5 L2058.5 658.5 L2058.5 660.5 L2054.5 656.5 L2058.5 652.5 L2058.5 654.5 L2061.5 654.5 Z" fill="none" stroke="#ff00ff" stroke-width="1" shape-rendering="auto"/>
<rect x="2079" y="641" width="32" height="17" fill="#000"/>
<rect x="2080" y="642" width="30" height="15" fill="#ffffcc"/>
<rect x="2095" y="642" width="1" height="15" fill="#000"/>
<rect x="2081.5" y="643.5" width="6" height="4" fill="#fff" stroke="#000"/>
<path d="M2089 645.5 h3" stroke="#000"/><path d="M2091 643 l2.5 2.5 l-2.5 2.5 Z" fill="#000"/>
<rect x="2081.5" y="651.5" width="6" height="4" fill="url(#dith)" stroke="#000"/>
<path d="M2089 653.5 h3" stroke="#000"/><path d="M2091 651 l2.5 2.5 l-2.5 2.5 Z" fill="#000"/>
<rect x="2097.5" y="646.5" width="10" height="6" fill="url(#dith)" stroke="#000"/>
<rect x="2099" y="648.0" width="2" height="4" fill="#fff"/>
<rect x="1501" y="737" width="120" height="34" fill="#000"/>
<rect x="1502" y="738" width="118" height="17" fill="#ffffd2"/>
<rect x="1502" y="756" width="118" height="14" fill="#fff"/>
<path d="M1505.5 739.5 h3 l2 2 v4 h-5 Z" fill="none" stroke="#000" stroke-width="1"/>
<text x="1504" y="753" fill="#000" font-size="7" text-anchor="start" font-weight="bold" font-family="Liberation Sans, sans-serif">?!</text>
<path d="M1612.5 739.5 h3 l2 2 v4 h-5 Z" fill="none" stroke="#000" stroke-width="1"/>
<text x="1612" y="753" fill="#000" font-size="7" text-anchor="start" font-weight="bold" font-family="Liberation Sans, sans-serif">?!</text>
<rect x="1514.5" y="744.5" width="1" height="2" fill="#000"/><rect x="1516.5" y="744.5" width="2" height="2" fill="#000"/>
<rect x="1519.5" y="744.5" width="4" height="3" fill="#000"/>
<path d="M1522.5 741.5 L1527.0 746.0 L1522.5 750.5 Z" fill="#000" shape-rendering="auto"/>
<text x="1568" y="750" fill="#000" font-size="11" text-anchor="middle" font-weight="normal" font-family="Liberation Sans, sans-serif" textLength="78" lengthAdjust="spacingAndGlyphs">BrickletNFCRFID</text>
<text x="1560.5" y="767" fill="#0000ff" font-size="11" text-anchor="middle" font-weight="normal" font-family="Liberation Sans, sans-serif" textLength="42" lengthAdjust="spacingAndGlyphs">GetPage</text>
<path d="M1615 760.0 L1617.5 762.5 L1615 765.0 Z" fill="#000"/>
<rect x="1656" y="756" width="32" height="27" fill="#000"/>
<rect x="1657" y="757" width="30" height="25" fill="#ffffcc"/>
<rect x="1660.5" y="759.5" width="9" height="11" fill="none" stroke="#000"/><path d="M1663.5 759 v12 M1666.5 759 v12 M1660 763.5 h10 M1660 767.5 h10" stroke="#000"/>
<rect x="1659" y="776" width="4" height="4" fill="#000"/>
<path d="M1664 778 h1 M1666 778 h1 M1669 779 v-4 l-1 1" stroke="#000"/>
<rect x="1678.5" y="774.5" width="4" height="4" fill="none" stroke="#000"/>
<rect x="1633" y="769" width="13" height="17" fill="#0000ff"/>
<rect x="1635" y="771" width="9" height="13" fill="#fff"/>
<text x="1636" y="782" fill="#000" font-size="11" text-anchor="start" font-weight="normal" font-family="Liberation Sans, sans-serif">0</text>
<rect x="1698" y="770" width="32" height="32" fill="#000"/>
<rect x="1699" y="771" width="30" height="30" fill="#ffffcc"/>
<text x="1701" y="780" fill="#000" font-size="9" text-anchor="start" font-weight="bold" font-family="Liberation Sans, sans-serif">#</text>
<path d="M1707 775.5 h13 q4 0 4 4 v3 M1722 781 l2 2 l2 -2" stroke="#000" fill="none" stroke-width="1.3" shape-rendering="auto"/>
<rect x="1711" y="784" width="18" height="9" fill="#000"/>
<rect x="1712" y="785" width="16" height="7" fill="#fff"/>
<text x="1712.5" y="791" fill="#000" font-size="8" text-anchor="start" font-weight="normal" font-family="Liberation Sans, sans-serif" textLength="14" lengthAdjust="spacingAndGlyphs">1FFF</text>
<path d="M1701 795 v4 M1701 797 h6 M1707 795 v4" stroke="#000"/>
<rect x="1656" y="820" width="32" height="35" fill="#000"/>
<rect x="1657" y="821" width="30" height="33" fill="#ffffcc"/>
<rect x="1660.5" y="823.5" width="9" height="11" fill="none" stroke="#000"/><path d="M1663.5 823 v12 M1666.5 823 v12 M1660 827.5 h10 M1660 831.5 h10" stroke="#000"/>
<rect x="1659" y="848" width="4" height="4" fill="#000"/>
<path d="M1664 850 h1 M1666 850 h1 M1669 851 v-4 l-1 1" stroke="#000"/>
<path d="M1672 829 h3" stroke="#000"/>
<rect x="1676.5" y="825.5" width="9" height="11" fill="none" stroke="#000"/><path d="M1679.5 825 v12 M1682.5 825 v12 M1676 829.5 h10 M1676 833.5 h10" stroke="#000"/>
<path d="M1659 845 v3 M1659 846 h8 M1667 845 v3" stroke="#000"/>
<rect x="1633" y="833" width="13" height="17" fill="#0000ff"/>
<rect x="1635" y="835" width="9" height="13" fill="#fff"/>
<text x="1636" y="846" fill="#000" font-size="11" text-anchor="start" font-weight="normal" font-family="Liberation Sans, sans-serif">1</text>
<rect x="1742" y="786" width="16" height="15" fill="#0000ff"/>
<rect x="1744" y="788" width="12" height="11" fill="#fff"/>
<text x="1745" y="798" fill="#0000ff" font-size="12" text-anchor="start" font-weight="bold" font-family="Liberation Sans, sans-serif">N</text>
<rect x="1743" y="855" width="16" height="16" fill="#0000ff"/>
<rect x="1745" y="857" width="12" height="12" fill="#ffffcc"/>
<text x="1748" y="868" fill="#0000ff" font-size="12" text-anchor="start" font-weight="bold" font-family="Liberation Sans, sans-serif">i</text>
<rect x="1742" y="812" width="16" height="12" fill="#ff00ff"/>
<rect x="1744" y="814" width="12" height="8" fill="#ffffcc"/>
<path d="M1745 815 h10 l-5 5 Z" fill="#ff00ff"/>
<rect x="1999" y="812" width="16" height="12" fill="#ff00ff"/>
<rect x="2001" y="814" width="12" height="8" fill="#ffffcc"/>
<path d="M2002 820 h10 l-5 -5 Z" fill="#ff00ff"/>
<rect x="1742" y="833" width="9" height="9" fill="#000"/>
<rect x="1743" y="834" width="7" height="7" fill="#ffffcc"/>
<text x="1743" y="840" fill="#0000ff" font-size="7" text-anchor="start" font-weight="normal" font-family="Liberation Sans, sans-serif">[]</text>
<rect x="1771" y="829" width="32" height="32" fill="#000"/>
<rect x="1772" y="830" width="30" height="30" fill="#ffffcc"/>
<text x="1774" y="839" fill="#000" font-size="9" text-anchor="start" font-weight="bold" font-family="Liberation Sans, sans-serif">#</text>
<path d="M1780 834.5 h13 q4 0 4 4 v3 M1795 840 l2 2 l2 -2" stroke="#000" fill="none" stroke-width="1.3" shape-rendering="auto"/>
<rect x="1784" y="843" width="18" height="9" fill="#000"/>
<rect x="1785" y="844" width="16" height="7" fill="#fff"/>
<text x="1785.5" y="850" fill="#000" font-size="8" text-anchor="start" font-weight="normal" font-family="Liberation Sans, sans-serif" textLength="14" lengthAdjust="spacingAndGlyphs">1FFF</text>
<path d="M1774 854 v4 M1774 856 h6 M1780 854 v4" stroke="#000"/>
<rect x="1923" y="823" width="12" height="17" fill="#ff00ff"/>
<rect x="1925" y="825" width="8" height="13" fill="#fff"/>
<rect x="1923" y="823" width="4" height="17" fill="#ff00ff"/>
<rect x="1955" y="814" width="32" height="25" fill="#000"/>
<rect x="1956" y="815" width="30" height="23" fill="#ffffcc"/>
<rect x="1971" y="815" width="1" height="23" fill="#000"/>
<rect x="1957.5" y="816.5" width="6" height="4" fill="#fff" stroke="#000"/>
<path d="M1965 818.5 h3" stroke="#000"/><path d="M1967 816 l2.5 2.5 l-2.5 2.5 Z" fill="#000"/>
<rect x="1957.5" y="824.5" width="6" height="4" fill="url(#dith)" stroke="#000"/>
<path d="M1965 826.5 h3" stroke="#000"/><path d="M1967 824 l2.5 2.5 l-2.5 2.5 Z" fill="#000"/>
<rect x="1957.5" y="832.5" width="6" height="4" fill="url(#dith)" stroke="#000"/>
<path d="M1965 834.5 h3" stroke="#000"/><path d="M1967 832 l2.5 2.5 l-2.5 2.5 Z" fill="#000"/>
<rect x="1973.5" y="823.5" width="10" height="6" fill="url(#dith)" stroke="#000"/>
<rect x="1975" y="825.0" width="2" height="4" fill="#fff"/>
<rect x="1969" y="757" width="71" height="16" fill="#ff00ff"/>
<rect x="1971" y="759" width="67" height="12" fill="#fff"/>
<rect x="1969" y="757" width="4" height="16" fill="#ff00ff"/>
<text x="1974" y="768.5" fill="#000" font-size="11" text-anchor="start" font-weight="normal" font-family="Liberation Sans, sans-serif" textLength="62" lengthAdjust="spacingAndGlyphs">Read data: [</text>
<rect x="2051" y="821" width="14" height="17" fill="#ff00ff"/>
<rect x="2053" y="823" width="10" height="13" fill="#fff"/>
<rect x="2051" y="821" width="4" height="17" fill="#ff00ff"/>
<text x="2056" y="833.5" fill="#000" font-size="11" text-anchor="start" font-weight="normal" font-family="Liberation Sans, sans-serif">]</text>
<rect x="2051" y="841" width="16" height="16" fill="#ff00ff"/>
<rect x="2053" y="843" width="12" height="12" fill="#ffffcc"/>
<path d="M2061.5 844.5 L2063.5 844.5 L2063.5 851.5 L2058.5 851.5 L2058.5 853.5 L2054.5 849.5 L2058.5 845.5 L2058.5 847.5 L2061.5 847.5 Z" fill="none" stroke="#ff00ff" stroke-width="1" shape-rendering="auto"/>
<rect x="2079" y="806" width="32" height="33" fill="#000"/>
<rect x="2080" y="807" width="30" height="31" fill="#ffffcc"/>
<rect x="2095" y="807" width="1" height="31" fill="#000"/>
<rect x="2081.5" y="808.5" width="6" height="4" fill="#fff" stroke="#000"/>
<path d="M2089 810.5 h3" stroke="#000"/><path d="M2091 808 l2.5 2.5 l-2.5 2.5 Z" fill="#000"/>
<rect x="2081.5" y="816.5" width="6" height="4" fill="url(#dith)" stroke="#000"/>
<path d="M2089 818.5 h3" stroke="#000"/><path d="M2091 816 l2.5 2.5 l-2.5 2.5 Z" fill="#000"/>
<rect x="2081.5" y="824.5" width="6" height="4" fill="url(#dith)" stroke="#000"/>
<path d="M2089 826.5 h3" stroke="#000"/><path d="M2091 824 l2.5 2.5 l-2.5 2.5 Z" fill="#000"/>
<rect x="2081.5" y="832.5" width="6" height="4" fill="url(#dith)" stroke="#000"/>
<path d="M2089 834.5 h3" stroke="#000"/><path d="M2091 832 l2.5 2.5 l-2.5 2.5 Z" fill="#000"/>
<rect x="2097.5" y="819.5" width="10" height="6" fill="url(#dith)" stroke="#000"/>
<rect x="2099" y="821.0" width="2" height="4" fill="#fff"/>
<rect x="1775" y="952" width="27" height="12" fill="#000"/>
<rect x="1776" y="953" width="25" height="10" fill="#ffffcc"/>
<text x="1778" y="961" fill="#000" font-size="8" text-anchor="start" font-weight="bold" font-family="Liberation Sans, sans-serif" textLength="21" lengthAdjust="spacingAndGlyphs">#[...]</text>
<rect x="1860" y="949" width="33" height="27" fill="#000"/>
<rect x="1861" y="950" width="31" height="25" fill="#ffffcc"/>
<rect x="1864.5" y="952.5" width="9" height="11" fill="none" stroke="#000"/><path d="M1867.5 952 v12 M1870.5 952 v12 M1864 956.5 h10 M1864 960.5 h10" stroke="#000"/>
<rect x="1863" y="969" width="4" height="4" fill="#000"/>
<path d="M1868 971 h1 M1870 971 h1 M1873 972 v-4 l-1 1" stroke="#000"/>
<rect x="1883.5" y="967.5" width="4" height="4" fill="none" stroke="#000"/>
<rect x="1837" y="962" width="13" height="17" fill="#0000ff"/>
<rect x="1839" y="964" width="9" height="13" fill="#fff"/>
<text x="1840" y="975" fill="#000" font-size="11" text-anchor="start" font-weight="normal" font-family="Liberation Sans, sans-serif">6</text>
<rect x="2004" y="965" width="32" height="32" fill="#000"/>
<rect x="2005" y="966" width="30" height="30" fill="#ffffcc"/>
<text x="2007" y="975" fill="#000" font-size="9" text-anchor="start" font-weight="bold" font-family="Liberation Sans, sans-serif">#</text>
<path d="M2013 970.5 h13 q4 0 4 4 v3 M2028 976 l2 2 l2 -2" stroke="#000" fill="none" stroke-width="1.3" shape-rendering="auto"/>
<rect x="2017" y="979" width="18" height="9" fill="#000"/>
<rect x="2018" y="980" width="16" height="7" fill="#fff"/>
<text x="2018.5" y="986" fill="#000" font-size="8" text-anchor="start" font-weight="normal" font-family="Liberation Sans, sans-serif" textLength="11" lengthAdjust="spacingAndGlyphs">999</text>
<path d="M2007 990 v4 M2007 992 h6 M2013 990 v4" stroke="#000"/>
<rect x="2051" y="962" width="40" height="16" fill="#ff00ff"/>
<rect x="2053" y="964" width="36" height="12" fill="#fff"/>
<rect x="2051" y="962" width="4" height="16" fill="#ff00ff"/>
<text x="2056" y="973.5" fill="#000" font-size="11" text-anchor="start" font-weight="normal" font-family="Liberation Sans, sans-serif" textLength="27" lengthAdjust="spacingAndGlyphs">Error:</text>
<rect x="2051" y="984" width="16" height="16" fill="#ff00ff"/>
<rect x="2053" y="986" width="12" height="12" fill="#ffffcc"/>
<path d="M2061.5 987.5 L2063.5 987.5 L2063.5 994.5 L2058.5 994.5 L2058.5 996.5 L2054.5 992.5 L2058.5 988.5 L2058.5 990.5 L2061.5 990.5 Z" fill="none" stroke="#ff00ff" stroke-width="1" shape-rendering="auto"/>
<rect x="2103" y="969" width="32" height="25" fill="#000"/>
<rect x="2104" y="970" width="30" height="23" fill="#ffffcc"/>
<rect x="2119" y="970" width="1" height="23" fill="#000"/>
<rect x="2105.5" y="971.5" width="6" height="4" fill="#fff" stroke="#000"/>
<path d="M2113 973.5 h3" stroke="#000"/><path d="M2115 971 l2.5 2.5 l-2.5 2.5 Z" fill="#000"/>
<rect x="2105.5" y="979.5" width="6" height="4" fill="url(#dith)" stroke="#000"/>
<path d="M2113 981.5 h3" stroke="#000"/><path d="M2115 979 l2.5 2.5 l-2.5 2.5 Z" fill="#000"/>
<rect x="2105.5" y="987.5" width="6" height="4" fill="url(#dith)" stroke="#000"/>
<path d="M2113 989.5 h3" stroke="#000"/><path d="M2115 987 l2.5 2.5 l-2.5 2.5 Z" fill="#000"/>
<rect x="2121.5" y="978.5" width="10" height="6" fill="url(#dith)" stroke="#000"/>
<rect x="2123" y="980.0" width="2" height="4" fill="#fff"/>
<rect x="2354" y="572" width="32" height="26" fill="#000"/>
<rect x="2355" y="573" width="30" height="24" fill="#ffffcc"/>
<rect x="2374" y="573" width="1" height="24" fill="#000"/>
<text x="2356" y="581" fill="#000" font-size="8" text-anchor="start" font-weight="bold" font-family="Liberation Sans, sans-serif">?!</text>
<path d="M2364 577.5 h6 M2367.5 575 l2.5 2.5 l-2.5 2.5" stroke="#000" fill="none" stroke-width="1.3"/>
<text x="2356" y="589" fill="#000" font-size="8" text-anchor="start" font-weight="bold" font-family="Liberation Sans, sans-serif">?!</text>
<path d="M2364 585.5 h6 M2367.5 583 l2.5 2.5 l-2.5 2.5" stroke="#000" fill="none" stroke-width="1.3"/>
<text x="2356" y="597" fill="#000" font-size="8" text-anchor="start" font-weight="bold" font-family="Liberation Sans, sans-serif">?!</text>
<path d="M2364 593.5 h6 M2367.5 591 l2.5 2.5 l-2.5 2.5" stroke="#000" fill="none" stroke-width="1.3"/>
<text x="2377" y="589" fill="#000" font-size="9" text-anchor="start" font-weight="bold" font-family="Liberation Sans, sans-serif">?!</text>
<rect x="2354" y="794" width="32" height="41" fill="#000"/>
<rect x="2355" y="795" width="30" height="39" fill="#ffffcc"/>
<rect x="2370" y="795" width="1" height="39" fill="#000"/>
<rect x="2356.5" y="796.5" width="6" height="4" fill="#fff" stroke="#000"/>
<path d="M2364 798.5 h3" stroke="#000"/><path d="M2366 796 l2.5 2.5 l-2.5 2.5 Z" fill="#000"/>
<rect x="2356.5" y="804.5" width="6" height="4" fill="url(#dith)" stroke="#000"/>
<path d="M2364 806.5 h3" stroke="#000"/><path d="M2366 804 l2.5 2.5 l-2.5 2.5 Z" fill="#000"/>
<rect x="2356.5" y="812.5" width="6" height="4" fill="url(#dith)" stroke="#000"/>
<path d="M2364 814.5 h3" stroke="#000"/><path d="M2366 812 l2.5 2.5 l-2.5 2.5 Z" fill="#000"/>
<rect x="2356.5" y="820.5" width="6" height="4" fill="url(#dith)" stroke="#000"/>
<path d="M2364 822.5 h3" stroke="#000"/><path d="M2366 820 l2.5 2.5 l-2.5 2.5 Z" fill="#000"/>
<rect x="2356.5" y="828.5" width="6" height="4" fill="url(#dith)" stroke="#000"/>
<path d="M2364 830.5 h3" stroke="#000"/><path d="M2366 828 l2.5 2.5 l-2.5 2.5 Z" fill="#000"/>
<rect x="2372.5" y="811.5" width="10" height="6" fill="url(#dith)" stroke="#000"/>
<rect x="2374" y="813.0" width="2" height="4" fill="#fff"/>
<text x="2399" y="831" fill="#000" font-size="11" text-anchor="start" font-weight="normal" font-family="Liberation Sans, sans-serif" textLength="33" lengthAdjust="spacingAndGlyphs">events</text>
<rect x="2398" y="834" width="39" height="39" fill="#ff00ff"/>
<rect x="2399" y="835" width="37" height="37" fill="#fff"/>
<rect x="2400" y="836" width="35" height="1" fill="#ff00ff"/>
<rect x="2400" y="870" width="35" height="1" fill="#ff00ff"/>
<rect x="2400" y="836" width="1" height="35" fill="#ff00ff"/>
<rect x="2434" y="836" width="1" height="35" fill="#ff00ff"/>
<rect x="2401" y="837" width="33" height="28" fill="#e0e0e0"/>
<rect x="2406" y="846" width="25" height="13" fill="#aaa"/>
<rect x="2407" y="847" width="23" height="11" fill="#ccc"/>
<text x="2409" y="856" fill="#000" font-size="9" text-anchor="start" font-weight="normal" font-family="Liberation Sans, sans-serif">abc</text>
<path d="M2399.5 848.5 l4 4 l-4 4 Z" fill="#fff" stroke="#000"/>
<rect x="2409.5" y="865.5" width="15" height="5" fill="#fff" stroke="#ff00ff"/>
<text x="2410" y="871" fill="#ff00ff" font-size="6" text-anchor="start" font-weight="normal" font-family="Liberation Sans, sans-serif">abc</text>
<rect x="2539" y="619" width="32" height="32" fill="#000"/>
<rect x="2540" y="620" width="30" height="30" fill="#ffffcc"/>
<circle cx="2562" cy="629" r="6.5" fill="none" stroke="#000" shape-rendering="auto"/>
<path d="M2562 626 v6 M2560 633 h4 M2560 626 a2 2 0 1 1 4 0" stroke="#000" fill="none" shape-rendering="auto"/>
<path d="M2544.5 638.5 L2555 647.5 M2555 638.5 L2544.5 647.5" stroke="#000" stroke-width="3" shape-rendering="auto"/>
<rect x="2582" y="619" width="32" height="32" fill="#000"/>
<rect x="2583" y="620" width="30" height="30" fill="#ffffcc"/>
<text x="2584" y="630" fill="#000" font-size="8" text-anchor="start" font-weight="normal" font-family="Liberation Sans, sans-serif" textLength="26" lengthAdjust="spacingAndGlyphs">%%/%%</text>
<text x="2585" y="647" fill="#000" font-size="11" text-anchor="start" font-weight="bold" font-family="Liberation Sans, sans-serif">C</text>
<path d="M2597.5 637.5 h6 l3 3 v7 h-9 Z" fill="none" stroke="#000"/>
<rect x="2742" y="619" width="32" height="32" fill="#000"/>
<rect x="2743" y="620" width="30" height="30" fill="#ffffcc"/>
<text x="2744" y="630" fill="#000" font-size="8" text-anchor="start" font-weight="normal" font-family="Liberation Sans, sans-serif" textLength="26" lengthAdjust="spacingAndGlyphs">%%/%%</text>
<text x="2745" y="647" fill="#000" font-size="11" text-anchor="start" font-weight="bold" font-family="Liberation Sans, sans-serif">C</text>
<path d="M2757.5 637.5 h6 l3 3 v7 h-9 Z" fill="none" stroke="#000"/>
<rect x="2625" y="634" width="106" height="34" fill="#000"/>
<rect x="2626" y="635" width="104" height="17" fill="#ffffd2"/>
<rect x="2626" y="653" width="104" height="14" fill="#fff"/>
<path d="M2629.5 636.5 h3 l2 2 v4 h-5 Z" fill="none" stroke="#000" stroke-width="1"/>
<text x="2628" y="650" fill="#000" font-size="7" text-anchor="start" font-weight="bold" font-family="Liberation Sans, sans-serif">?!</text>
<path d="M2722.5 636.5 h3 l2 2 v4 h-5 Z" fill="none" stroke="#000" stroke-width="1"/>
<text x="2722" y="650" fill="#000" font-size="7" text-anchor="start" font-weight="bold" font-family="Liberation Sans, sans-serif">?!</text>
<rect x="2638.0" y="641.5" width="1" height="2" fill="#000"/><rect x="2640.0" y="641.5" width="2" height="2" fill="#000"/>
<rect x="2643.0" y="641.5" width="4" height="3" fill="#000"/>
<path d="M2646.0 638.5 L2650.5 643.0 L2646.0 647.5 Z" fill="#000" shape-rendering="auto"/>
<text x="2684.5" y="647" fill="#000" font-size="11" text-anchor="middle" font-weight="normal" font-family="Liberation Sans, sans-serif" textLength="64" lengthAdjust="spacingAndGlyphs">IPConnection</text>
<text x="2677.5" y="664" fill="#000" font-size="11" text-anchor="middle" font-weight="normal" font-family="Liberation Sans, sans-serif" textLength="52" lengthAdjust="spacingAndGlyphs">Disconnect</text>
</svg>
</body></html>
